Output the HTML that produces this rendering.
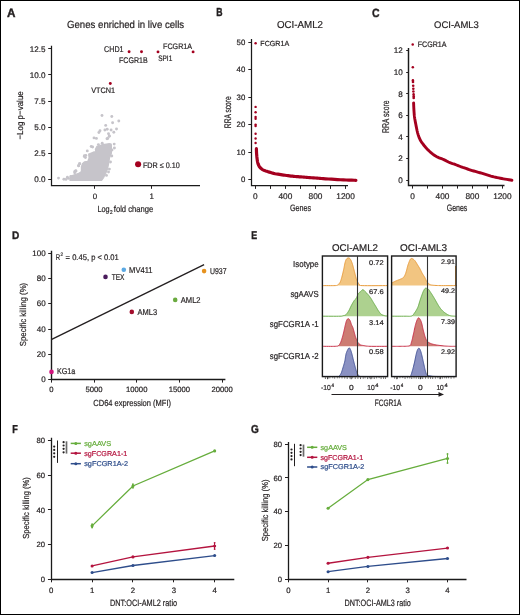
<!DOCTYPE html>
<html><head><meta charset="utf-8"><style>
html,body{margin:0;padding:0;background:#fff;}
svg{display:block;font-family:"Liberation Sans", sans-serif;will-change:transform;text-rendering:geometricPrecision;}
</style></head><body>
<svg width="520" height="615" viewBox="0 0 520 615">
<rect x="0" y="0" width="520" height="615" fill="#fff"/>
<text x="7.10" y="16.70" font-size="12.21" textLength="8.50" lengthAdjust="spacingAndGlyphs" fill="#231f20" stroke="#231f20" stroke-width="0.4" font-weight="bold">A</text>
<text x="216.20" y="16.45" font-size="11.63" textLength="6.30" lengthAdjust="spacingAndGlyphs" fill="#231f20" stroke="#231f20" stroke-width="0.4" font-weight="bold">B</text>
<text x="372.00" y="16.70" font-size="11.92" textLength="7.60" lengthAdjust="spacingAndGlyphs" fill="#231f20" stroke="#231f20" stroke-width="0.4" font-weight="bold">C</text>
<text x="11.90" y="238.60" font-size="10.90" textLength="7.30" lengthAdjust="spacingAndGlyphs" fill="#231f20" stroke="#231f20" stroke-width="0.4" font-weight="bold">D</text>
<text x="251.20" y="238.80" font-size="11.34" textLength="5.90" lengthAdjust="spacingAndGlyphs" fill="#231f20" stroke="#231f20" stroke-width="0.4" font-weight="bold">E</text>
<text x="12.30" y="433.10" font-size="11.48" textLength="5.60" lengthAdjust="spacingAndGlyphs" fill="#231f20" stroke="#231f20" stroke-width="0.4" font-weight="bold">F</text>
<text x="251.00" y="433.30" font-size="11.63" textLength="7.80" lengthAdjust="spacingAndGlyphs" fill="#231f20" stroke="#231f20" stroke-width="0.4" font-weight="bold">G</text>
<text x="67.00" y="27.90" font-size="10.32" textLength="117.20" lengthAdjust="spacingAndGlyphs" fill="#231f20" stroke="#231f20" stroke-width="0.2">Genes enriched in live cells</text>
<path d="M51.50,45.70 V185.50 H200.00" fill="none" stroke="#1a1a1a" stroke-width="1.25" stroke-linejoin="miter"/>
<line x1="48.20" y1="48.50" x2="51.30" y2="48.50" stroke="#231f20" stroke-width="1"/>
<text x="45.40" y="51.65" font-size="8.10" text-anchor="end" fill="#231f20" stroke="#231f20" stroke-width="0.2">12.5</text>
<line x1="48.20" y1="74.50" x2="51.30" y2="74.50" stroke="#231f20" stroke-width="1"/>
<text x="45.40" y="77.70" font-size="8.10" text-anchor="end" fill="#231f20" stroke="#231f20" stroke-width="0.2">10.0</text>
<line x1="48.20" y1="101.50" x2="51.30" y2="101.50" stroke="#231f20" stroke-width="1"/>
<text x="45.40" y="103.75" font-size="8.10" text-anchor="end" fill="#231f20" stroke="#231f20" stroke-width="0.2">7.5</text>
<line x1="48.20" y1="127.50" x2="51.30" y2="127.50" stroke="#231f20" stroke-width="1"/>
<text x="45.40" y="129.80" font-size="8.10" text-anchor="end" fill="#231f20" stroke="#231f20" stroke-width="0.2">5.0</text>
<line x1="48.20" y1="153.50" x2="51.30" y2="153.50" stroke="#231f20" stroke-width="1"/>
<text x="45.40" y="155.85" font-size="8.10" text-anchor="end" fill="#231f20" stroke="#231f20" stroke-width="0.2">2.5</text>
<line x1="48.20" y1="179.50" x2="51.30" y2="179.50" stroke="#231f20" stroke-width="1"/>
<text x="45.40" y="181.90" font-size="8.10" text-anchor="end" fill="#231f20" stroke="#231f20" stroke-width="0.2">0.0</text>
<line x1="94.50" y1="185.40" x2="94.50" y2="188.80" stroke="#231f20" stroke-width="1"/>
<text x="94.90" y="198.80" font-size="7.90" text-anchor="middle" fill="#231f20" stroke="#231f20" stroke-width="0.2">0</text>
<line x1="151.50" y1="185.40" x2="151.50" y2="188.80" stroke="#231f20" stroke-width="1"/>
<text x="151.80" y="198.80" font-size="7.90" text-anchor="middle" fill="#231f20" stroke="#231f20" stroke-width="0.2">1</text>
<text x="97.40" y="211.60" font-size="8.87" textLength="12.20" lengthAdjust="spacingAndGlyphs" fill="#231f20" stroke="#231f20" stroke-width="0.2">Log</text>
<text x="110.00" y="213.80" font-size="5.60" textLength="2.60" lengthAdjust="spacingAndGlyphs" fill="#231f20" stroke="#231f20" stroke-width="0.2">2</text>
<text x="113.80" y="211.60" font-size="8.87" textLength="39.50" lengthAdjust="spacingAndGlyphs" fill="#231f20" stroke="#231f20" stroke-width="0.2">fold change</text>
<text x="23.00" y="115.40" font-size="8.72" text-anchor="middle" textLength="48.30" lengthAdjust="spacingAndGlyphs" fill="#231f20" stroke="#231f20" stroke-width="0.2" transform="rotate(-90 23.00 115.40)">−Log p−value</text>
<polygon points="70.00,180.20 70.50,176.50 73.00,175.50 75.80,174.40 78.70,173.50 81.50,171.50 81.50,166.70 82.50,163.80 84.40,161.90 87.80,161.40 89.20,158.10 88.75,154.20 90.70,153.30 93.10,152.30 96.00,151.80 95.50,149.40 96.90,146.50 99.80,145.60 102.70,144.60 106.50,144.10 109.40,143.70 111.30,145.60 111.30,153.30 109.40,158.10 108.50,163.80 107.50,168.70 105.60,173.50 103.70,177.30 101.70,180.20" fill="#c6c4ca" stroke="#c6c4ca" stroke-width="1.4" stroke-linejoin="round"/>
<circle cx="102.00" cy="115.50" r="1.45" fill="#c6c4ca"/>
<circle cx="111.80" cy="116.50" r="1.45" fill="#c6c4ca"/>
<circle cx="118.80" cy="121.00" r="1.45" fill="#c6c4ca"/>
<circle cx="112.60" cy="122.80" r="1.45" fill="#c6c4ca"/>
<circle cx="105.70" cy="125.40" r="1.45" fill="#c6c4ca"/>
<circle cx="116.50" cy="129.00" r="1.45" fill="#c6c4ca"/>
<circle cx="107.20" cy="129.20" r="1.45" fill="#c6c4ca"/>
<circle cx="104.90" cy="130.00" r="1.45" fill="#c6c4ca"/>
<circle cx="111.10" cy="130.00" r="1.45" fill="#c6c4ca"/>
<circle cx="100.00" cy="130.80" r="1.45" fill="#c6c4ca"/>
<circle cx="98.90" cy="132.50" r="1.45" fill="#c6c4ca"/>
<circle cx="113.80" cy="132.30" r="1.45" fill="#c6c4ca"/>
<circle cx="108.50" cy="133.80" r="1.45" fill="#c6c4ca"/>
<circle cx="109.20" cy="136.20" r="1.45" fill="#c6c4ca"/>
<circle cx="107.70" cy="138.50" r="1.45" fill="#c6c4ca"/>
<circle cx="94.00" cy="137.90" r="1.45" fill="#c6c4ca"/>
<circle cx="96.40" cy="138.40" r="1.45" fill="#c6c4ca"/>
<circle cx="107.00" cy="138.80" r="1.45" fill="#c6c4ca"/>
<circle cx="109.40" cy="136.00" r="1.45" fill="#c6c4ca"/>
<circle cx="114.20" cy="144.10" r="1.45" fill="#c6c4ca"/>
<circle cx="114.40" cy="148.00" r="1.45" fill="#c6c4ca"/>
<circle cx="98.40" cy="144.60" r="1.45" fill="#c6c4ca"/>
<circle cx="102.20" cy="143.20" r="1.45" fill="#c6c4ca"/>
<circle cx="110.40" cy="144.60" r="1.45" fill="#c6c4ca"/>
<circle cx="109.40" cy="169.10" r="1.45" fill="#c6c4ca"/>
<circle cx="106.50" cy="175.40" r="1.45" fill="#c6c4ca"/>
<circle cx="84.40" cy="155.70" r="1.45" fill="#c6c4ca"/>
<circle cx="87.30" cy="150.90" r="1.45" fill="#c6c4ca"/>
<circle cx="85.40" cy="157.60" r="1.45" fill="#c6c4ca"/>
<circle cx="79.60" cy="163.80" r="1.45" fill="#c6c4ca"/>
<circle cx="78.70" cy="165.80" r="1.45" fill="#c6c4ca"/>
<circle cx="74.80" cy="171.50" r="1.45" fill="#c6c4ca"/>
<circle cx="75.80" cy="170.60" r="1.45" fill="#c6c4ca"/>
<circle cx="71.90" cy="177.30" r="1.45" fill="#c6c4ca"/>
<circle cx="91.20" cy="146.50" r="1.45" fill="#c6c4ca"/>
<circle cx="92.60" cy="147.00" r="1.45" fill="#c6c4ca"/>
<circle cx="58.50" cy="178.10" r="1.45" fill="#c6c4ca"/>
<circle cx="63.90" cy="179.20" r="1.45" fill="#c6c4ca"/>
<circle cx="67.40" cy="177.30" r="1.45" fill="#c6c4ca"/>
<circle cx="70.80" cy="176.50" r="1.45" fill="#c6c4ca"/>
<circle cx="68.50" cy="178.40" r="1.45" fill="#c6c4ca"/>
<circle cx="74.70" cy="172.70" r="1.45" fill="#c6c4ca"/>
<circle cx="75.80" cy="171.20" r="1.45" fill="#c6c4ca"/>
<circle cx="78.50" cy="165.80" r="1.45" fill="#c6c4ca"/>
<circle cx="79.70" cy="163.80" r="1.45" fill="#c6c4ca"/>
<circle cx="84.30" cy="156.50" r="1.45" fill="#c6c4ca"/>
<circle cx="85.80" cy="155.40" r="1.45" fill="#c6c4ca"/>
<circle cx="66.00" cy="179.40" r="1.45" fill="#c6c4ca"/>
<circle cx="71.50" cy="179.20" r="1.45" fill="#c6c4ca"/>
<circle cx="112.00" cy="150.00" r="1.45" fill="#c6c4ca"/>
<circle cx="111.80" cy="156.00" r="1.45" fill="#c6c4ca"/>
<circle cx="110.50" cy="162.00" r="1.45" fill="#c6c4ca"/>
<circle cx="108.50" cy="172.00" r="1.45" fill="#c6c4ca"/>
<circle cx="129.10" cy="51.80" r="1.45" fill="#a4001f"/>
<circle cx="141.50" cy="51.80" r="1.45" fill="#a4001f"/>
<circle cx="158.00" cy="51.90" r="1.45" fill="#a4001f"/>
<circle cx="193.10" cy="51.90" r="1.45" fill="#a4001f"/>
<circle cx="110.30" cy="83.50" r="1.45" fill="#a4001f"/>
<text x="104.00" y="52.30" font-size="8.43" textLength="19.60" lengthAdjust="spacingAndGlyphs" fill="#231f20" stroke="#231f20" stroke-width="0.2">CHD1</text>
<text x="119.00" y="63.40" font-size="8.14" textLength="28.60" lengthAdjust="spacingAndGlyphs" fill="#231f20" stroke="#231f20" stroke-width="0.2">FCGR1B</text>
<text x="158.20" y="61.30" font-size="7.99" textLength="14.10" lengthAdjust="spacingAndGlyphs" fill="#231f20" stroke="#231f20" stroke-width="0.2">SPI1</text>
<text x="163.00" y="49.40" font-size="7.99" textLength="29.10" lengthAdjust="spacingAndGlyphs" fill="#231f20" stroke="#231f20" stroke-width="0.2">FCGR1A</text>
<text x="91.20" y="92.50" font-size="7.99" textLength="23.90" lengthAdjust="spacingAndGlyphs" fill="#231f20" stroke="#231f20" stroke-width="0.2">VTCN1</text>
<circle cx="138.10" cy="164.30" r="3.05" fill="#a4001f"/>
<text x="142.90" y="167.60" font-size="7.99" textLength="37.00" lengthAdjust="spacingAndGlyphs" fill="#231f20" stroke="#231f20" stroke-width="0.2">FDR ≤ 0.10</text>
<text x="276.90" y="28.10" font-size="10.03" textLength="46.10" lengthAdjust="spacingAndGlyphs" fill="#231f20" stroke="#231f20" stroke-width="0.2">OCI-AML2</text>
<path d="M251.50,39.00 V185.50 H348.00" fill="none" stroke="#1a1a1a" stroke-width="1.25" stroke-linejoin="miter"/>
<line x1="248.30" y1="179.50" x2="251.20" y2="179.50" stroke="#231f20" stroke-width="1"/>
<text x="245.30" y="182.40" font-size="7.80" text-anchor="end" fill="#231f20" stroke="#231f20" stroke-width="0.2">0</text>
<line x1="248.30" y1="152.50" x2="251.20" y2="152.50" stroke="#231f20" stroke-width="1"/>
<text x="245.30" y="154.90" font-size="7.80" text-anchor="end" fill="#231f20" stroke="#231f20" stroke-width="0.2">10</text>
<line x1="248.30" y1="124.50" x2="251.20" y2="124.50" stroke="#231f20" stroke-width="1"/>
<text x="245.30" y="127.40" font-size="7.80" text-anchor="end" fill="#231f20" stroke="#231f20" stroke-width="0.2">20</text>
<line x1="248.30" y1="97.50" x2="251.20" y2="97.50" stroke="#231f20" stroke-width="1"/>
<text x="245.30" y="99.90" font-size="7.80" text-anchor="end" fill="#231f20" stroke="#231f20" stroke-width="0.2">30</text>
<line x1="248.30" y1="69.50" x2="251.20" y2="69.50" stroke="#231f20" stroke-width="1"/>
<text x="245.30" y="72.40" font-size="7.80" text-anchor="end" fill="#231f20" stroke="#231f20" stroke-width="0.2">40</text>
<line x1="248.30" y1="42.50" x2="251.20" y2="42.50" stroke="#231f20" stroke-width="1"/>
<text x="245.30" y="44.90" font-size="7.80" text-anchor="end" fill="#231f20" stroke="#231f20" stroke-width="0.2">50</text>
<line x1="255.50" y1="185.80" x2="255.50" y2="188.90" stroke="#231f20" stroke-width="1"/>
<text x="255.35" y="198.70" font-size="8.30" text-anchor="middle" fill="#231f20" stroke="#231f20" stroke-width="0.2">0</text>
<line x1="270.50" y1="185.80" x2="270.50" y2="188.90" stroke="#231f20" stroke-width="1"/>
<line x1="285.50" y1="185.80" x2="285.50" y2="188.90" stroke="#231f20" stroke-width="1"/>
<text x="285.43" y="198.70" font-size="8.30" text-anchor="middle" fill="#231f20" stroke="#231f20" stroke-width="0.2">400</text>
<line x1="300.50" y1="185.80" x2="300.50" y2="188.90" stroke="#231f20" stroke-width="1"/>
<line x1="315.50" y1="185.80" x2="315.50" y2="188.90" stroke="#231f20" stroke-width="1"/>
<text x="315.51" y="198.70" font-size="8.30" text-anchor="middle" fill="#231f20" stroke="#231f20" stroke-width="0.2">800</text>
<line x1="330.50" y1="185.80" x2="330.50" y2="188.90" stroke="#231f20" stroke-width="1"/>
<line x1="345.50" y1="185.80" x2="345.50" y2="188.90" stroke="#231f20" stroke-width="1"/>
<text x="345.59" y="198.70" font-size="8.30" text-anchor="middle" fill="#231f20" stroke="#231f20" stroke-width="0.2">1200</text>
<text x="289.90" y="211.40" font-size="9.30" textLength="21.20" lengthAdjust="spacingAndGlyphs" fill="#231f20" stroke="#231f20" stroke-width="0.2">Genes</text>
<text x="230.70" y="112.20" font-size="9.59" text-anchor="middle" textLength="32.00" lengthAdjust="spacingAndGlyphs" fill="#231f20" stroke="#231f20" stroke-width="0.2" transform="rotate(-90 230.70 112.20)">RRA score</text>
<circle cx="255.60" cy="43.30" r="1.25" fill="#a4001f"/>
<circle cx="255.60" cy="106.90" r="1.2" fill="#a4001f"/>
<circle cx="255.60" cy="112.30" r="1.2" fill="#a4001f"/>
<circle cx="255.60" cy="117.00" r="1.2" fill="#a4001f"/>
<circle cx="255.60" cy="118.80" r="1.2" fill="#a4001f"/>
<circle cx="255.60" cy="124.60" r="1.2" fill="#a4001f"/>
<circle cx="255.60" cy="126.00" r="1.2" fill="#a4001f"/>
<circle cx="255.60" cy="133.80" r="1.2" fill="#a4001f"/>
<circle cx="255.60" cy="138.50" r="1.2" fill="#a4001f"/>
<circle cx="255.60" cy="143.00" r="1.2" fill="#a4001f"/>
<text x="260.30" y="45.80" font-size="7.41" textLength="28.90" lengthAdjust="spacingAndGlyphs" fill="#231f20" stroke="#231f20" stroke-width="0.2">FCGR1A</text>
<polyline points="256.40,148.70 256.43,149.60 256.46,150.89 256.52,152.36 256.60,153.80 256.72,155.24 256.86,156.77 257.03,158.26 257.20,159.60 257.37,160.75 257.54,161.76 257.75,162.70 258.00,163.60 258.31,164.48 258.66,165.31 259.05,166.08 259.50,166.80 260.00,167.46 260.56,168.06 261.16,168.60 261.80,169.10 262.44,169.53 263.11,169.90 263.84,170.24 264.70,170.60 265.70,170.97 266.82,171.34 268.03,171.72 269.30,172.10 270.67,172.51 272.13,172.94 273.63,173.35 275.10,173.70 276.53,173.97 277.95,174.19 279.37,174.39 280.80,174.60 282.24,174.83 283.69,175.06 285.15,175.29 286.60,175.50 288.05,175.69 289.51,175.88 290.96,176.04 292.40,176.20 293.83,176.34 295.25,176.47 296.67,176.59 298.10,176.70 299.54,176.80 300.99,176.90 302.45,177.00 303.90,177.10 305.31,177.22 306.69,177.34 308.12,177.47 309.70,177.60 311.52,177.74 313.50,177.88 315.48,178.02 317.30,178.15 318.74,178.26 319.96,178.36 321.29,178.47 323.10,178.60 325.57,178.78 328.49,178.99 331.59,179.21 334.60,179.40 337.51,179.57 340.46,179.73 343.34,179.88 346.10,180.00 348.90,180.10 351.72,180.19 354.18,180.25 355.90,180.30" fill="none" stroke="#a4001f" stroke-width="3.2" stroke-linecap="round" stroke-linejoin="round"/>
<text x="434.00" y="28.00" font-size="9.59" textLength="44.90" lengthAdjust="spacingAndGlyphs" fill="#231f20" stroke="#231f20" stroke-width="0.2">OCI-AML3</text>
<path d="M408.50,48.00 V185.50 H504.50" fill="none" stroke="#1a1a1a" stroke-width="1.45" stroke-linejoin="miter"/>
<line x1="406.20" y1="180.50" x2="409.00" y2="180.50" stroke="#231f20" stroke-width="1"/>
<text x="402.80" y="182.90" font-size="8.10" text-anchor="end" fill="#231f20" stroke="#231f20" stroke-width="0.2">0</text>
<line x1="406.20" y1="158.50" x2="409.00" y2="158.50" stroke="#231f20" stroke-width="1"/>
<text x="402.80" y="161.30" font-size="8.10" text-anchor="end" fill="#231f20" stroke="#231f20" stroke-width="0.2">2</text>
<line x1="406.20" y1="136.50" x2="409.00" y2="136.50" stroke="#231f20" stroke-width="1"/>
<text x="402.80" y="139.70" font-size="8.10" text-anchor="end" fill="#231f20" stroke="#231f20" stroke-width="0.2">4</text>
<line x1="406.20" y1="115.50" x2="409.00" y2="115.50" stroke="#231f20" stroke-width="1"/>
<text x="402.80" y="118.10" font-size="8.10" text-anchor="end" fill="#231f20" stroke="#231f20" stroke-width="0.2">6</text>
<line x1="406.20" y1="93.50" x2="409.00" y2="93.50" stroke="#231f20" stroke-width="1"/>
<text x="402.80" y="96.50" font-size="8.10" text-anchor="end" fill="#231f20" stroke="#231f20" stroke-width="0.2">8</text>
<line x1="406.20" y1="72.50" x2="409.00" y2="72.50" stroke="#231f20" stroke-width="1"/>
<text x="402.80" y="74.90" font-size="8.10" text-anchor="end" fill="#231f20" stroke="#231f20" stroke-width="0.2">10</text>
<line x1="406.20" y1="50.50" x2="409.00" y2="50.50" stroke="#231f20" stroke-width="1"/>
<text x="402.80" y="53.30" font-size="8.10" text-anchor="end" fill="#231f20" stroke="#231f20" stroke-width="0.2">12</text>
<line x1="412.50" y1="185.60" x2="412.50" y2="188.60" stroke="#231f20" stroke-width="1"/>
<text x="412.50" y="198.70" font-size="8.30" text-anchor="middle" fill="#231f20" stroke="#231f20" stroke-width="0.2">0</text>
<line x1="427.50" y1="185.60" x2="427.50" y2="188.60" stroke="#231f20" stroke-width="1"/>
<line x1="442.50" y1="185.60" x2="442.50" y2="188.60" stroke="#231f20" stroke-width="1"/>
<text x="442.46" y="198.70" font-size="8.30" text-anchor="middle" fill="#231f20" stroke="#231f20" stroke-width="0.2">400</text>
<line x1="457.50" y1="185.60" x2="457.50" y2="188.60" stroke="#231f20" stroke-width="1"/>
<line x1="472.50" y1="185.60" x2="472.50" y2="188.60" stroke="#231f20" stroke-width="1"/>
<text x="472.42" y="198.70" font-size="8.30" text-anchor="middle" fill="#231f20" stroke="#231f20" stroke-width="0.2">800</text>
<line x1="487.50" y1="185.60" x2="487.50" y2="188.60" stroke="#231f20" stroke-width="1"/>
<line x1="502.50" y1="185.60" x2="502.50" y2="188.60" stroke="#231f20" stroke-width="1"/>
<text x="502.38" y="198.70" font-size="8.30" text-anchor="middle" fill="#231f20" stroke="#231f20" stroke-width="0.2">1200</text>
<text x="446.70" y="211.40" font-size="9.45" textLength="20.70" lengthAdjust="spacingAndGlyphs" fill="#231f20" stroke="#231f20" stroke-width="0.2">Genes</text>
<text x="388.60" y="116.70" font-size="9.74" text-anchor="middle" textLength="32.70" lengthAdjust="spacingAndGlyphs" fill="#231f20" stroke="#231f20" stroke-width="0.2" transform="rotate(-90 388.60 116.70)">RRA score</text>
<circle cx="412.70" cy="44.60" r="1.25" fill="#a4001f"/>
<circle cx="412.80" cy="67.30" r="1.25" fill="#a4001f"/>
<circle cx="412.90" cy="80.40" r="1.3" fill="#a4001f"/>
<circle cx="413.00" cy="82.00" r="1.3" fill="#a4001f"/>
<circle cx="413.20" cy="85.80" r="1.3" fill="#a4001f"/>
<circle cx="413.30" cy="88.70" r="1.3" fill="#a4001f"/>
<circle cx="413.40" cy="91.50" r="1.3" fill="#a4001f"/>
<circle cx="413.60" cy="94.40" r="1.3" fill="#a4001f"/>
<circle cx="413.70" cy="96.40" r="1.3" fill="#a4001f"/>
<circle cx="413.70" cy="98.00" r="1.3" fill="#a4001f"/>
<text x="417.70" y="47.10" font-size="7.99" textLength="28.80" lengthAdjust="spacingAndGlyphs" fill="#231f20" stroke="#231f20" stroke-width="0.2">FCGR1A</text>
<polyline points="413.60,102.90 413.65,104.09 413.71,105.79 413.80,107.72 413.90,109.60 414.01,111.40 414.14,113.26 414.29,115.14 414.50,117.00 414.76,118.80 415.08,120.58 415.42,122.39 415.80,124.30 416.20,126.38 416.63,128.59 417.10,130.77 417.60,132.80 418.13,134.63 418.68,136.34 419.29,137.95 420.00,139.50 420.82,140.97 421.73,142.36 422.70,143.70 423.70,145.00 424.72,146.28 425.78,147.53 426.88,148.74 428.00,149.90 429.16,151.02 430.36,152.11 431.58,153.14 432.80,154.10 433.99,154.97 435.17,155.76 436.39,156.50 437.70,157.20 439.14,157.83 440.68,158.40 442.25,158.97 443.80,159.60 445.35,160.36 446.91,161.19 448.45,162.01 449.90,162.70 451.22,163.20 452.44,163.59 453.67,163.95 455.00,164.40 456.48,164.98 458.05,165.63 459.66,166.28 461.25,166.90 462.81,167.46 464.38,167.98 465.94,168.49 467.50,169.00 469.06,169.51 470.62,170.02 472.19,170.52 473.75,171.00 475.31,171.45 476.88,171.88 478.44,172.31 480.00,172.75 481.56,173.20 483.12,173.67 484.69,174.13 486.25,174.60 487.81,175.08 489.38,175.58 490.94,176.06 492.50,176.50 494.06,176.89 495.62,177.24 497.19,177.58 498.75,177.90 500.30,178.22 501.83,178.52 503.39,178.81 505.00,179.10 506.84,179.42 508.84,179.75 510.64,180.04 511.90,180.25" fill="none" stroke="#a4001f" stroke-width="2.9" stroke-linecap="round" stroke-linejoin="round"/>
<path d="M51.50,250.80 V379.50 H225.40" fill="none" stroke="#1a1a1a" stroke-width="1.4" stroke-linejoin="miter"/>
<line x1="48.20" y1="379.50" x2="51.20" y2="379.50" stroke="#231f20" stroke-width="1"/>
<text x="45.70" y="382.35" font-size="8.00" text-anchor="end" fill="#231f20" stroke="#231f20" stroke-width="0.2">0</text>
<line x1="48.20" y1="354.50" x2="51.20" y2="354.50" stroke="#231f20" stroke-width="1"/>
<text x="45.70" y="357.06" font-size="8.00" text-anchor="end" fill="#231f20" stroke="#231f20" stroke-width="0.2">20</text>
<line x1="48.20" y1="329.50" x2="51.20" y2="329.50" stroke="#231f20" stroke-width="1"/>
<text x="45.70" y="331.77" font-size="8.00" text-anchor="end" fill="#231f20" stroke="#231f20" stroke-width="0.2">40</text>
<line x1="48.20" y1="303.50" x2="51.20" y2="303.50" stroke="#231f20" stroke-width="1"/>
<text x="45.70" y="306.48" font-size="8.00" text-anchor="end" fill="#231f20" stroke="#231f20" stroke-width="0.2">60</text>
<line x1="48.20" y1="278.50" x2="51.20" y2="278.50" stroke="#231f20" stroke-width="1"/>
<text x="45.70" y="281.19" font-size="8.00" text-anchor="end" fill="#231f20" stroke="#231f20" stroke-width="0.2">80</text>
<line x1="48.20" y1="253.50" x2="51.20" y2="253.50" stroke="#231f20" stroke-width="1"/>
<text x="45.70" y="255.90" font-size="8.00" text-anchor="end" fill="#231f20" stroke="#231f20" stroke-width="0.2">100</text>
<line x1="51.50" y1="379.70" x2="51.50" y2="382.60" stroke="#231f20" stroke-width="1"/>
<text x="51.40" y="392.40" font-size="7.70" text-anchor="middle" fill="#231f20" stroke="#231f20" stroke-width="0.2">0</text>
<line x1="94.50" y1="379.70" x2="94.50" y2="382.60" stroke="#231f20" stroke-width="1"/>
<text x="94.07" y="392.40" font-size="7.70" text-anchor="middle" fill="#231f20" stroke="#231f20" stroke-width="0.2">5000</text>
<line x1="136.50" y1="379.70" x2="136.50" y2="382.60" stroke="#231f20" stroke-width="1"/>
<text x="136.75" y="392.40" font-size="7.70" text-anchor="middle" fill="#231f20" stroke="#231f20" stroke-width="0.2">10000</text>
<line x1="179.50" y1="379.70" x2="179.50" y2="382.60" stroke="#231f20" stroke-width="1"/>
<text x="179.42" y="392.40" font-size="7.70" text-anchor="middle" fill="#231f20" stroke="#231f20" stroke-width="0.2">15000</text>
<line x1="222.50" y1="379.70" x2="222.50" y2="382.60" stroke="#231f20" stroke-width="1"/>
<text x="222.10" y="392.40" font-size="7.70" text-anchor="middle" fill="#231f20" stroke="#231f20" stroke-width="0.2">20000</text>
<text x="93.30" y="405.50" font-size="8.87" textLength="77.70" lengthAdjust="spacingAndGlyphs" fill="#231f20" stroke="#231f20" stroke-width="0.2">CD64 expression (MFI)</text>
<text x="25.90" y="314.50" font-size="8.72" text-anchor="middle" textLength="63.40" lengthAdjust="spacingAndGlyphs" fill="#231f20" stroke="#231f20" stroke-width="0.2" transform="rotate(-90 25.90 314.50)">Specific killing (%)</text>
<line x1="51.20" y1="339.60" x2="204.10" y2="264.60" stroke="#231f20" stroke-width="1.3"/>
<text x="55.75" y="259.90" font-size="8.14" textLength="4.35" lengthAdjust="spacingAndGlyphs" fill="#231f20" stroke="#231f20" stroke-width="0.2">R</text>
<text x="60.40" y="256.10" font-size="5.09" textLength="2.60" lengthAdjust="spacingAndGlyphs" fill="#231f20" stroke="#231f20" stroke-width="0.2">2</text>
<text x="65.60" y="259.90" font-size="8.14" textLength="53.20" lengthAdjust="spacingAndGlyphs" fill="#231f20" stroke="#231f20" stroke-width="0.2">= 0.45, p &lt; 0.01</text>
<circle cx="123.80" cy="269.70" r="2.3" fill="#5ba9e3"/>
<text x="129.10" y="272.70" font-size="8.43" textLength="23.50" lengthAdjust="spacingAndGlyphs" fill="#231f20" stroke="#231f20" stroke-width="0.2">MV411</text>
<circle cx="105.50" cy="276.90" r="2.3" fill="#4a1b5c"/>
<text x="111.70" y="280.00" font-size="8.43" textLength="12.80" lengthAdjust="spacingAndGlyphs" fill="#231f20" stroke="#231f20" stroke-width="0.2">TEX</text>
<circle cx="204.10" cy="271.10" r="2.3" fill="#e6921e"/>
<text x="209.90" y="273.80" font-size="8.43" textLength="16.60" lengthAdjust="spacingAndGlyphs" fill="#231f20" stroke="#231f20" stroke-width="0.2">U937</text>
<circle cx="175.20" cy="299.90" r="2.3" fill="#6aaa3f"/>
<text x="180.80" y="302.70" font-size="8.43" textLength="19.80" lengthAdjust="spacingAndGlyphs" fill="#231f20" stroke="#231f20" stroke-width="0.2">AML2</text>
<circle cx="131.80" cy="311.90" r="2.3" fill="#a30d2c"/>
<text x="137.60" y="314.70" font-size="8.43" textLength="19.60" lengthAdjust="spacingAndGlyphs" fill="#231f20" stroke="#231f20" stroke-width="0.2">AML3</text>
<circle cx="51.50" cy="371.90" r="2.3" fill="#d0157d"/>
<text x="56.90" y="374.40" font-size="8.43" textLength="18.29" lengthAdjust="spacingAndGlyphs" fill="#231f20" stroke="#231f20" stroke-width="0.2">KG1a</text>
<text x="293.10" y="266.50" font-size="8.72" textLength="25.60" lengthAdjust="spacingAndGlyphs" fill="#231f20" stroke="#231f20" stroke-width="0.2">Isotype</text>
<text x="290.40" y="297.40" font-size="8.72" textLength="28.30" lengthAdjust="spacingAndGlyphs" fill="#231f20" stroke="#231f20" stroke-width="0.2">sgAAVS</text>
<text x="269.80" y="327.30" font-size="8.72" textLength="48.90" lengthAdjust="spacingAndGlyphs" fill="#231f20" stroke="#231f20" stroke-width="0.2">sgFCGR1A -1</text>
<text x="269.80" y="358.50" font-size="8.72" textLength="48.90" lengthAdjust="spacingAndGlyphs" fill="#231f20" stroke="#231f20" stroke-width="0.2">sgFCGR1A -2</text>
<text x="332.00" y="251.00" font-size="9.81" textLength="46.00" lengthAdjust="spacingAndGlyphs" fill="#231f20" stroke="#231f20" stroke-width="0.2">OCI-AML2</text>
<text x="400.00" y="251.00" font-size="9.81" textLength="47.00" lengthAdjust="spacingAndGlyphs" fill="#231f20" stroke="#231f20" stroke-width="0.2">OCI-AML3</text>
<polygon points="322.40,285.60 322.40,285.60 323.44,285.61 324.89,285.62 326.63,285.64 328.52,285.65 330.43,285.66 332.24,285.66 333.80,285.64 335.00,285.60 335.83,285.55 336.42,285.50 336.82,285.44 337.09,285.37 337.28,285.27 337.44,285.15 337.63,285.00 337.90,284.80 338.22,284.57 338.53,284.32 338.83,284.04 339.12,283.73 339.41,283.38 339.68,283.00 339.95,282.57 340.20,282.10 340.44,281.59 340.66,281.03 340.88,280.43 341.08,279.80 341.28,279.13 341.48,278.42 341.69,277.68 341.90,276.90 342.12,276.07 342.35,275.17 342.59,274.23 342.82,273.26 343.05,272.27 343.28,271.29 343.49,270.32 343.70,269.40 343.89,268.49 344.08,267.55 344.25,266.62 344.42,265.70 344.59,264.81 344.76,263.97 344.93,263.20 345.10,262.50 345.27,261.88 345.43,261.33 345.59,260.83 345.74,260.39 345.91,259.99 346.09,259.63 346.28,259.30 346.50,259.00 346.75,258.73 347.02,258.49 347.32,258.29 347.62,258.12 347.93,258.00 348.24,257.92 348.53,257.89 348.80,257.90 349.05,257.96 349.29,258.07 349.52,258.23 349.74,258.42 349.95,258.66 350.17,258.94 350.38,259.25 350.60,259.60 350.82,259.98 351.03,260.40 351.24,260.87 351.46,261.36 351.67,261.90 351.88,262.46 352.09,263.07 352.30,263.70 352.51,264.39 352.73,265.13 352.95,265.92 353.16,266.74 353.38,267.58 353.59,268.41 353.80,269.22 354.00,270.00 354.20,270.76 354.39,271.51 354.58,272.26 354.77,273.01 354.95,273.73 355.14,274.45 355.32,275.14 355.50,275.80 355.67,276.44 355.84,277.05 355.99,277.64 356.15,278.22 356.31,278.78 356.49,279.33 356.68,279.87 356.90,280.40 357.14,280.94 357.40,281.49 357.67,282.03 357.96,282.56 358.25,283.06 358.56,283.52 358.88,283.94 359.20,284.30 359.38,284.60 359.35,284.84 359.25,285.04 359.20,285.19 359.33,285.32 359.77,285.43 360.65,285.52 362.10,285.60 364.38,285.66 367.48,285.69 371.13,285.70 375.03,285.68 378.91,285.66 382.49,285.63 385.48,285.61 387.60,285.60 387.60,285.60" fill="#f2c581" stroke="none" stroke-width="0"/>
<polyline points="322.40,285.60 323.44,285.61 324.89,285.62 326.63,285.64 328.52,285.65 330.43,285.66 332.24,285.66 333.80,285.64 335.00,285.60 335.83,285.55 336.42,285.50 336.82,285.44 337.09,285.37 337.28,285.27 337.44,285.15 337.63,285.00 337.90,284.80 338.22,284.57 338.53,284.32 338.83,284.04 339.12,283.73 339.41,283.38 339.68,283.00 339.95,282.57 340.20,282.10 340.44,281.59 340.66,281.03 340.88,280.43 341.08,279.80 341.28,279.13 341.48,278.42 341.69,277.68 341.90,276.90 342.12,276.07 342.35,275.17 342.59,274.23 342.82,273.26 343.05,272.27 343.28,271.29 343.49,270.32 343.70,269.40 343.89,268.49 344.08,267.55 344.25,266.62 344.42,265.70 344.59,264.81 344.76,263.97 344.93,263.20 345.10,262.50 345.27,261.88 345.43,261.33 345.59,260.83 345.74,260.39 345.91,259.99 346.09,259.63 346.28,259.30 346.50,259.00 346.75,258.73 347.02,258.49 347.32,258.29 347.62,258.12 347.93,258.00 348.24,257.92 348.53,257.89 348.80,257.90 349.05,257.96 349.29,258.07 349.52,258.23 349.74,258.42 349.95,258.66 350.17,258.94 350.38,259.25 350.60,259.60 350.82,259.98 351.03,260.40 351.24,260.87 351.46,261.36 351.67,261.90 351.88,262.46 352.09,263.07 352.30,263.70 352.51,264.39 352.73,265.13 352.95,265.92 353.16,266.74 353.38,267.58 353.59,268.41 353.80,269.22 354.00,270.00 354.20,270.76 354.39,271.51 354.58,272.26 354.77,273.01 354.95,273.73 355.14,274.45 355.32,275.14 355.50,275.80 355.67,276.44 355.84,277.05 355.99,277.64 356.15,278.22 356.31,278.78 356.49,279.33 356.68,279.87 356.90,280.40 357.14,280.94 357.40,281.49 357.67,282.03 357.96,282.56 358.25,283.06 358.56,283.52 358.88,283.94 359.20,284.30 359.38,284.60 359.35,284.84 359.25,285.04 359.20,285.19 359.33,285.32 359.77,285.43 360.65,285.52 362.10,285.60 364.38,285.66 367.48,285.69 371.13,285.70 375.03,285.68 378.91,285.66 382.49,285.63 385.48,285.61 387.60,285.60" fill="none" stroke="#e99d3e" stroke-width="1.0" stroke-linejoin="round"/>
<polygon points="322.40,316.20 322.40,316.20 323.86,316.20 325.91,316.21 328.36,316.22 331.02,316.23 333.70,316.24 336.22,316.24 338.38,316.22 340.00,316.20 341.07,316.16 341.76,316.12 342.16,316.07 342.37,316.01 342.46,315.94 342.52,315.86 342.64,315.79 342.90,315.70 343.26,315.63 343.62,315.57 343.99,315.52 344.35,315.46 344.71,315.37 345.07,315.25 345.44,315.06 345.80,314.80 346.16,314.47 346.53,314.08 346.89,313.64 347.26,313.15 347.62,312.63 347.98,312.07 348.34,311.49 348.70,310.90 349.05,310.27 349.40,309.58 349.75,308.86 350.10,308.11 350.45,307.36 350.80,306.61 351.15,305.89 351.50,305.20 351.86,304.53 352.24,303.85 352.62,303.18 353.01,302.53 353.38,301.90 353.74,301.31 354.08,300.77 354.40,300.30 354.68,299.92 354.94,299.64 355.18,299.42 355.41,299.23 355.62,299.05 355.84,298.84 356.06,298.56 356.30,298.20 356.54,297.73 356.78,297.17 357.03,296.55 357.27,295.90 357.52,295.25 357.77,294.63 358.03,294.07 358.30,293.60 358.58,293.22 358.88,292.89 359.18,292.62 359.49,292.38 359.80,292.16 360.10,291.95 360.41,291.74 360.70,291.50 360.99,291.23 361.27,290.92 361.54,290.61 361.82,290.30 362.09,290.03 362.36,289.80 362.63,289.65 362.90,289.60 363.16,289.65 363.41,289.78 363.66,289.99 363.91,290.25 364.16,290.55 364.42,290.87 364.70,291.19 365.00,291.50 365.32,291.81 365.67,292.13 366.03,292.47 366.40,292.83 366.78,293.20 367.16,293.59 367.53,293.99 367.90,294.40 368.27,294.83 368.64,295.28 369.01,295.75 369.38,296.23 369.75,296.72 370.11,297.21 370.46,297.71 370.80,298.20 371.12,298.69 371.44,299.19 371.74,299.69 372.03,300.19 372.32,300.70 372.61,301.20 372.90,301.70 373.20,302.20 373.50,302.69 373.79,303.16 374.08,303.63 374.37,304.10 374.66,304.58 374.96,305.06 375.28,305.57 375.60,306.10 375.94,306.67 376.29,307.27 376.66,307.90 377.03,308.53 377.40,309.16 377.77,309.78 378.14,310.36 378.50,310.90 378.85,311.40 379.18,311.89 379.51,312.36 379.84,312.81 380.17,313.23 380.52,313.62 380.90,313.98 381.30,314.30 381.75,314.59 382.23,314.84 382.75,315.07 383.28,315.26 383.80,315.43 384.30,315.58 384.78,315.70 385.20,315.80 385.59,315.87 385.96,315.91 386.32,315.91 386.64,315.89 386.94,315.87 387.20,315.84 387.43,315.81 387.60,315.80 387.60,316.20" fill="#add18f" stroke="none" stroke-width="0"/>
<polyline points="322.40,316.20 323.86,316.20 325.91,316.21 328.36,316.22 331.02,316.23 333.70,316.24 336.22,316.24 338.38,316.22 340.00,316.20 341.07,316.16 341.76,316.12 342.16,316.07 342.37,316.01 342.46,315.94 342.52,315.86 342.64,315.79 342.90,315.70 343.26,315.63 343.62,315.57 343.99,315.52 344.35,315.46 344.71,315.37 345.07,315.25 345.44,315.06 345.80,314.80 346.16,314.47 346.53,314.08 346.89,313.64 347.26,313.15 347.62,312.63 347.98,312.07 348.34,311.49 348.70,310.90 349.05,310.27 349.40,309.58 349.75,308.86 350.10,308.11 350.45,307.36 350.80,306.61 351.15,305.89 351.50,305.20 351.86,304.53 352.24,303.85 352.62,303.18 353.01,302.53 353.38,301.90 353.74,301.31 354.08,300.77 354.40,300.30 354.68,299.92 354.94,299.64 355.18,299.42 355.41,299.23 355.62,299.05 355.84,298.84 356.06,298.56 356.30,298.20 356.54,297.73 356.78,297.17 357.03,296.55 357.27,295.90 357.52,295.25 357.77,294.63 358.03,294.07 358.30,293.60 358.58,293.22 358.88,292.89 359.18,292.62 359.49,292.38 359.80,292.16 360.10,291.95 360.41,291.74 360.70,291.50 360.99,291.23 361.27,290.92 361.54,290.61 361.82,290.30 362.09,290.03 362.36,289.80 362.63,289.65 362.90,289.60 363.16,289.65 363.41,289.78 363.66,289.99 363.91,290.25 364.16,290.55 364.42,290.87 364.70,291.19 365.00,291.50 365.32,291.81 365.67,292.13 366.03,292.47 366.40,292.83 366.78,293.20 367.16,293.59 367.53,293.99 367.90,294.40 368.27,294.83 368.64,295.28 369.01,295.75 369.38,296.23 369.75,296.72 370.11,297.21 370.46,297.71 370.80,298.20 371.12,298.69 371.44,299.19 371.74,299.69 372.03,300.19 372.32,300.70 372.61,301.20 372.90,301.70 373.20,302.20 373.50,302.69 373.79,303.16 374.08,303.63 374.37,304.10 374.66,304.58 374.96,305.06 375.28,305.57 375.60,306.10 375.94,306.67 376.29,307.27 376.66,307.90 377.03,308.53 377.40,309.16 377.77,309.78 378.14,310.36 378.50,310.90 378.85,311.40 379.18,311.89 379.51,312.36 379.84,312.81 380.17,313.23 380.52,313.62 380.90,313.98 381.30,314.30 381.75,314.59 382.23,314.84 382.75,315.07 383.28,315.26 383.80,315.43 384.30,315.58 384.78,315.70 385.20,315.80 385.59,315.87 385.96,315.91 386.32,315.91 386.64,315.89 386.94,315.87 387.20,315.84 387.43,315.81 387.60,315.80" fill="none" stroke="#6cae4c" stroke-width="1.0" stroke-linejoin="round"/>
<polygon points="322.40,346.30 322.40,346.30 323.43,346.30 324.88,346.32 326.61,346.33 328.49,346.34 330.40,346.35 332.20,346.35 333.78,346.33 335.00,346.30 335.87,346.26 336.53,346.22 337.01,346.18 337.36,346.12 337.63,346.04 337.86,345.93 338.10,345.79 338.40,345.60 338.72,345.37 339.01,345.11 339.27,344.82 339.51,344.50 339.73,344.15 339.95,343.76 340.17,343.35 340.40,342.90 340.63,342.42 340.85,341.90 341.06,341.34 341.27,340.76 341.48,340.15 341.69,339.51 341.89,338.86 342.10,338.20 342.30,337.52 342.50,336.83 342.70,336.11 342.90,335.38 343.10,334.62 343.30,333.84 343.50,333.03 343.70,332.20 343.91,331.32 344.12,330.36 344.34,329.37 344.56,328.37 344.78,327.37 344.99,326.41 345.20,325.51 345.40,324.70 345.59,323.96 345.76,323.25 345.93,322.58 346.10,321.96 346.27,321.39 346.44,320.87 346.61,320.41 346.80,320.00 347.00,319.65 347.21,319.36 347.42,319.12 347.64,318.93 347.86,318.80 348.08,318.71 348.29,318.68 348.50,318.70 348.71,318.78 348.91,318.92 349.12,319.12 349.32,319.37 349.52,319.66 349.72,319.98 349.91,320.33 350.10,320.70 350.29,321.11 350.47,321.59 350.64,322.11 350.82,322.66 350.99,323.21 351.16,323.74 351.33,324.25 351.50,324.70 351.67,325.09 351.83,325.42 351.99,325.72 352.15,326.00 352.31,326.29 352.47,326.61 352.63,326.97 352.80,327.40 352.97,327.90 353.15,328.45 353.32,329.05 353.50,329.68 353.68,330.32 353.85,330.96 354.03,331.59 354.20,332.20 354.37,332.80 354.53,333.41 354.69,334.03 354.85,334.64 355.01,335.24 355.17,335.83 355.33,336.38 355.50,336.90 355.67,337.38 355.85,337.84 356.02,338.27 356.20,338.68 356.38,339.07 356.55,339.45 356.73,339.83 356.90,340.20 357.06,340.57 357.21,340.93 357.35,341.29 357.49,341.63 357.64,341.97 357.80,342.29 357.99,342.60 358.20,342.90 358.44,343.19 358.70,343.48 358.98,343.76 359.27,344.02 359.59,344.28 359.91,344.51 360.25,344.72 360.60,344.90 360.95,345.05 361.30,345.17 361.65,345.26 362.02,345.33 362.42,345.39 362.86,345.46 363.35,345.52 363.90,345.60 364.45,345.69 364.96,345.79 365.48,345.89 366.06,345.99 366.75,346.09 367.60,346.17 368.67,346.25 370.00,346.30 371.77,346.33 374.00,346.35 376.53,346.35 379.18,346.34 381.78,346.33 384.17,346.32 386.16,346.30 387.60,346.30 387.60,346.30" fill="#cd7c73" stroke="none" stroke-width="0"/>
<polyline points="322.40,346.30 323.43,346.30 324.88,346.32 326.61,346.33 328.49,346.34 330.40,346.35 332.20,346.35 333.78,346.33 335.00,346.30 335.87,346.26 336.53,346.22 337.01,346.18 337.36,346.12 337.63,346.04 337.86,345.93 338.10,345.79 338.40,345.60 338.72,345.37 339.01,345.11 339.27,344.82 339.51,344.50 339.73,344.15 339.95,343.76 340.17,343.35 340.40,342.90 340.63,342.42 340.85,341.90 341.06,341.34 341.27,340.76 341.48,340.15 341.69,339.51 341.89,338.86 342.10,338.20 342.30,337.52 342.50,336.83 342.70,336.11 342.90,335.38 343.10,334.62 343.30,333.84 343.50,333.03 343.70,332.20 343.91,331.32 344.12,330.36 344.34,329.37 344.56,328.37 344.78,327.37 344.99,326.41 345.20,325.51 345.40,324.70 345.59,323.96 345.76,323.25 345.93,322.58 346.10,321.96 346.27,321.39 346.44,320.87 346.61,320.41 346.80,320.00 347.00,319.65 347.21,319.36 347.42,319.12 347.64,318.93 347.86,318.80 348.08,318.71 348.29,318.68 348.50,318.70 348.71,318.78 348.91,318.92 349.12,319.12 349.32,319.37 349.52,319.66 349.72,319.98 349.91,320.33 350.10,320.70 350.29,321.11 350.47,321.59 350.64,322.11 350.82,322.66 350.99,323.21 351.16,323.74 351.33,324.25 351.50,324.70 351.67,325.09 351.83,325.42 351.99,325.72 352.15,326.00 352.31,326.29 352.47,326.61 352.63,326.97 352.80,327.40 352.97,327.90 353.15,328.45 353.32,329.05 353.50,329.68 353.68,330.32 353.85,330.96 354.03,331.59 354.20,332.20 354.37,332.80 354.53,333.41 354.69,334.03 354.85,334.64 355.01,335.24 355.17,335.83 355.33,336.38 355.50,336.90 355.67,337.38 355.85,337.84 356.02,338.27 356.20,338.68 356.38,339.07 356.55,339.45 356.73,339.83 356.90,340.20 357.06,340.57 357.21,340.93 357.35,341.29 357.49,341.63 357.64,341.97 357.80,342.29 357.99,342.60 358.20,342.90 358.44,343.19 358.70,343.48 358.98,343.76 359.27,344.02 359.59,344.28 359.91,344.51 360.25,344.72 360.60,344.90 360.95,345.05 361.30,345.17 361.65,345.26 362.02,345.33 362.42,345.39 362.86,345.46 363.35,345.52 363.90,345.60 364.45,345.69 364.96,345.79 365.48,345.89 366.06,345.99 366.75,346.09 367.60,346.17 368.67,346.25 370.00,346.30 371.77,346.33 374.00,346.35 376.53,346.35 379.18,346.34 381.78,346.33 384.17,346.32 386.16,346.30 387.60,346.30" fill="none" stroke="#c9334b" stroke-width="1.0" stroke-linejoin="round"/>
<polygon points="322.40,376.40 322.40,376.40 323.61,376.40 325.32,376.41 327.36,376.42 329.57,376.42 331.81,376.43 333.89,376.43 335.68,376.42 337.00,376.40 337.85,376.38 338.38,376.38 338.67,376.38 338.78,376.37 338.80,376.34 338.79,376.27 338.83,376.16 339.00,376.00 339.26,375.80 339.52,375.57 339.78,375.31 340.05,375.01 340.32,374.66 340.58,374.27 340.84,373.82 341.10,373.30 341.36,372.70 341.61,372.01 341.87,371.26 342.12,370.46 342.38,369.63 342.62,368.80 342.87,367.98 343.10,367.20 343.33,366.45 343.56,365.70 343.79,364.95 344.01,364.20 344.23,363.45 344.43,362.70 344.62,361.95 344.80,361.20 344.96,360.42 345.10,359.62 345.23,358.80 345.34,357.99 345.46,357.19 345.57,356.44 345.68,355.73 345.80,355.10 345.92,354.55 346.03,354.06 346.14,353.62 346.26,353.23 346.37,352.85 346.50,352.48 346.64,352.10 346.80,351.70 346.98,351.26 347.19,350.80 347.42,350.33 347.65,349.86 347.88,349.42 348.11,349.02 348.32,348.67 348.50,348.40 348.66,348.19 348.79,348.03 348.91,347.91 349.02,347.84 349.13,347.82 349.25,347.84 349.37,347.90 349.50,348.00 349.65,348.15 349.80,348.35 349.96,348.59 350.12,348.88 350.29,349.21 350.46,349.57 350.63,349.97 350.80,350.40 350.97,350.87 351.15,351.40 351.32,351.96 351.50,352.56 351.68,353.19 351.85,353.82 352.03,354.46 352.20,355.10 352.37,355.74 352.53,356.40 352.69,357.07 352.85,357.76 353.01,358.44 353.17,359.13 353.33,359.82 353.50,360.50 353.67,361.18 353.85,361.87 354.02,362.56 354.20,363.24 354.38,363.93 354.55,364.60 354.73,365.26 354.90,365.90 355.07,366.53 355.23,367.16 355.39,367.78 355.56,368.38 355.72,368.97 355.88,369.54 356.04,370.08 356.20,370.60 356.36,371.09 356.52,371.55 356.67,371.99 356.82,372.41 356.98,372.81 357.15,373.19 357.32,373.55 357.50,373.90 357.69,374.23 357.89,374.55 358.10,374.85 358.32,375.13 358.54,375.39 358.76,375.62 358.98,375.83 359.20,376.00 359.25,376.13 359.06,376.23 358.78,376.29 358.54,376.33 358.50,376.35 358.80,376.37 359.59,376.38 361.00,376.40 363.32,376.42 366.53,376.43 370.33,376.43 374.41,376.42 378.48,376.42 382.24,376.41 385.38,376.40 387.60,376.40 387.60,376.40" fill="#8a91c2" stroke="none" stroke-width="0"/>
<polyline points="322.40,376.40 323.61,376.40 325.32,376.41 327.36,376.42 329.57,376.42 331.81,376.43 333.89,376.43 335.68,376.42 337.00,376.40 337.85,376.38 338.38,376.38 338.67,376.38 338.78,376.37 338.80,376.34 338.79,376.27 338.83,376.16 339.00,376.00 339.26,375.80 339.52,375.57 339.78,375.31 340.05,375.01 340.32,374.66 340.58,374.27 340.84,373.82 341.10,373.30 341.36,372.70 341.61,372.01 341.87,371.26 342.12,370.46 342.38,369.63 342.62,368.80 342.87,367.98 343.10,367.20 343.33,366.45 343.56,365.70 343.79,364.95 344.01,364.20 344.23,363.45 344.43,362.70 344.62,361.95 344.80,361.20 344.96,360.42 345.10,359.62 345.23,358.80 345.34,357.99 345.46,357.19 345.57,356.44 345.68,355.73 345.80,355.10 345.92,354.55 346.03,354.06 346.14,353.62 346.26,353.23 346.37,352.85 346.50,352.48 346.64,352.10 346.80,351.70 346.98,351.26 347.19,350.80 347.42,350.33 347.65,349.86 347.88,349.42 348.11,349.02 348.32,348.67 348.50,348.40 348.66,348.19 348.79,348.03 348.91,347.91 349.02,347.84 349.13,347.82 349.25,347.84 349.37,347.90 349.50,348.00 349.65,348.15 349.80,348.35 349.96,348.59 350.12,348.88 350.29,349.21 350.46,349.57 350.63,349.97 350.80,350.40 350.97,350.87 351.15,351.40 351.32,351.96 351.50,352.56 351.68,353.19 351.85,353.82 352.03,354.46 352.20,355.10 352.37,355.74 352.53,356.40 352.69,357.07 352.85,357.76 353.01,358.44 353.17,359.13 353.33,359.82 353.50,360.50 353.67,361.18 353.85,361.87 354.02,362.56 354.20,363.24 354.38,363.93 354.55,364.60 354.73,365.26 354.90,365.90 355.07,366.53 355.23,367.16 355.39,367.78 355.56,368.38 355.72,368.97 355.88,369.54 356.04,370.08 356.20,370.60 356.36,371.09 356.52,371.55 356.67,371.99 356.82,372.41 356.98,372.81 357.15,373.19 357.32,373.55 357.50,373.90 357.69,374.23 357.89,374.55 358.10,374.85 358.32,375.13 358.54,375.39 358.76,375.62 358.98,375.83 359.20,376.00 359.25,376.13 359.06,376.23 358.78,376.29 358.54,376.33 358.50,376.35 358.80,376.37 359.59,376.38 361.00,376.40 363.32,376.42 366.53,376.43 370.33,376.43 374.41,376.42 378.48,376.42 382.24,376.41 385.38,376.40 387.60,376.40" fill="none" stroke="#485799" stroke-width="1.0" stroke-linejoin="round"/>
<polygon points="391.60,285.60 391.60,282.90 391.60,282.91 391.57,282.94 391.53,282.98 391.51,283.02 391.51,283.04 391.56,283.03 391.69,282.99 391.90,282.90 392.22,282.75 392.62,282.55 393.10,282.31 393.63,282.04 394.19,281.77 394.75,281.49 395.29,281.23 395.80,281.00 396.28,280.79 396.77,280.60 397.25,280.41 397.73,280.23 398.21,280.05 398.68,279.87 399.14,279.69 399.60,279.50 400.05,279.31 400.51,279.13 400.97,278.96 401.42,278.78 401.85,278.58 402.26,278.38 402.65,278.15 403.00,277.90 403.31,277.62 403.59,277.33 403.84,277.02 404.07,276.69 404.29,276.35 404.50,275.99 404.70,275.60 404.90,275.20 405.10,274.78 405.28,274.35 405.46,273.90 405.62,273.44 405.79,272.95 405.95,272.43 406.12,271.88 406.30,271.30 406.48,270.66 406.67,269.96 406.86,269.22 407.05,268.45 407.24,267.68 407.43,266.94 407.62,266.24 407.80,265.60 407.98,265.02 408.15,264.48 408.33,263.96 408.50,263.48 408.67,263.01 408.85,262.56 409.02,262.13 409.20,261.70 409.38,261.27 409.56,260.84 409.74,260.41 409.92,260.01 410.10,259.63 410.29,259.30 410.49,259.02 410.70,258.80 410.91,258.65 411.14,258.55 411.36,258.50 411.59,258.49 411.83,258.53 412.08,258.59 412.34,258.68 412.60,258.80 412.88,258.94 413.16,259.12 413.46,259.32 413.77,259.56 414.08,259.83 414.39,260.13 414.70,260.45 415.00,260.80 415.30,261.19 415.60,261.62 415.90,262.09 416.20,262.58 416.50,263.09 416.80,263.60 417.10,264.11 417.40,264.60 417.70,265.08 418.00,265.55 418.30,266.02 418.60,266.49 418.90,266.97 419.20,267.46 419.50,267.97 419.80,268.50 420.10,269.06 420.40,269.66 420.70,270.28 421.00,270.91 421.30,271.53 421.60,272.15 421.90,272.74 422.20,273.30 422.50,273.82 422.81,274.32 423.12,274.79 423.43,275.26 423.74,275.71 424.04,276.17 424.32,276.63 424.60,277.10 424.86,277.59 425.11,278.10 425.34,278.62 425.58,279.14 425.80,279.64 426.03,280.13 426.26,280.58 426.50,281.00 426.74,281.38 426.97,281.72 427.21,282.05 427.44,282.34 427.69,282.62 427.94,282.89 428.21,283.15 428.50,283.40 428.77,283.65 429.01,283.88 429.23,284.10 429.48,284.31 429.78,284.51 430.17,284.69 430.66,284.85 431.30,285.00 432.06,285.13 432.91,285.23 433.85,285.32 434.89,285.40 436.02,285.46 437.24,285.52 438.57,285.56 440.00,285.60 441.67,285.63 443.63,285.64 445.77,285.64 447.98,285.64 450.12,285.63 452.08,285.61 453.75,285.60 455.00,285.60 455.81,285.60 456.28,285.60 456.48,285.60 456.49,285.60 456.38,285.60 456.23,285.60 456.11,285.60 456.10,285.60 456.10,285.60" fill="#f2c581" stroke="none" stroke-width="0"/>
<polyline points="391.60,282.90 391.60,282.91 391.57,282.94 391.53,282.98 391.51,283.02 391.51,283.04 391.56,283.03 391.69,282.99 391.90,282.90 392.22,282.75 392.62,282.55 393.10,282.31 393.63,282.04 394.19,281.77 394.75,281.49 395.29,281.23 395.80,281.00 396.28,280.79 396.77,280.60 397.25,280.41 397.73,280.23 398.21,280.05 398.68,279.87 399.14,279.69 399.60,279.50 400.05,279.31 400.51,279.13 400.97,278.96 401.42,278.78 401.85,278.58 402.26,278.38 402.65,278.15 403.00,277.90 403.31,277.62 403.59,277.33 403.84,277.02 404.07,276.69 404.29,276.35 404.50,275.99 404.70,275.60 404.90,275.20 405.10,274.78 405.28,274.35 405.46,273.90 405.62,273.44 405.79,272.95 405.95,272.43 406.12,271.88 406.30,271.30 406.48,270.66 406.67,269.96 406.86,269.22 407.05,268.45 407.24,267.68 407.43,266.94 407.62,266.24 407.80,265.60 407.98,265.02 408.15,264.48 408.33,263.96 408.50,263.48 408.67,263.01 408.85,262.56 409.02,262.13 409.20,261.70 409.38,261.27 409.56,260.84 409.74,260.41 409.92,260.01 410.10,259.63 410.29,259.30 410.49,259.02 410.70,258.80 410.91,258.65 411.14,258.55 411.36,258.50 411.59,258.49 411.83,258.53 412.08,258.59 412.34,258.68 412.60,258.80 412.88,258.94 413.16,259.12 413.46,259.32 413.77,259.56 414.08,259.83 414.39,260.13 414.70,260.45 415.00,260.80 415.30,261.19 415.60,261.62 415.90,262.09 416.20,262.58 416.50,263.09 416.80,263.60 417.10,264.11 417.40,264.60 417.70,265.08 418.00,265.55 418.30,266.02 418.60,266.49 418.90,266.97 419.20,267.46 419.50,267.97 419.80,268.50 420.10,269.06 420.40,269.66 420.70,270.28 421.00,270.91 421.30,271.53 421.60,272.15 421.90,272.74 422.20,273.30 422.50,273.82 422.81,274.32 423.12,274.79 423.43,275.26 423.74,275.71 424.04,276.17 424.32,276.63 424.60,277.10 424.86,277.59 425.11,278.10 425.34,278.62 425.58,279.14 425.80,279.64 426.03,280.13 426.26,280.58 426.50,281.00 426.74,281.38 426.97,281.72 427.21,282.05 427.44,282.34 427.69,282.62 427.94,282.89 428.21,283.15 428.50,283.40 428.77,283.65 429.01,283.88 429.23,284.10 429.48,284.31 429.78,284.51 430.17,284.69 430.66,284.85 431.30,285.00 432.06,285.13 432.91,285.23 433.85,285.32 434.89,285.40 436.02,285.46 437.24,285.52 438.57,285.56 440.00,285.60 441.67,285.63 443.63,285.64 445.77,285.64 447.98,285.64 450.12,285.63 452.08,285.61 453.75,285.60 455.00,285.60 455.81,285.60 456.28,285.60 456.48,285.60 456.49,285.60 456.38,285.60 456.23,285.60 456.11,285.60 456.10,285.60" fill="none" stroke="#e99d3e" stroke-width="1.0" stroke-linejoin="round"/>
<line x1="455.50" y1="266.00" x2="455.50" y2="285.60" stroke="#eba650" stroke-width="1"/>
<polygon points="391.60,316.20 391.60,316.20 392.68,316.20 394.17,316.20 395.95,316.21 397.89,316.21 399.89,316.21 401.82,316.21 403.56,316.21 405.00,316.20 406.17,316.20 407.19,316.23 408.10,316.26 408.90,316.29 409.62,316.29 410.28,316.25 410.90,316.16 411.50,316.00 412.04,315.78 412.49,315.51 412.87,315.19 413.20,314.84 413.51,314.44 413.81,314.00 414.13,313.52 414.50,313.00 414.91,312.43 415.33,311.81 415.76,311.15 416.20,310.44 416.63,309.71 417.05,308.95 417.44,308.18 417.80,307.40 418.13,306.59 418.43,305.73 418.72,304.85 418.99,303.94 419.25,303.04 419.50,302.16 419.75,301.30 420.00,300.50 420.25,299.74 420.50,298.99 420.75,298.27 420.99,297.57 421.22,296.89 421.45,296.24 421.68,295.61 421.90,295.00 422.11,294.42 422.31,293.86 422.51,293.33 422.70,292.82 422.89,292.34 423.09,291.87 423.29,291.43 423.50,291.00 423.72,290.58 423.93,290.15 424.15,289.74 424.38,289.35 424.61,289.00 424.85,288.70 425.12,288.46 425.40,288.30 425.71,288.22 426.06,288.22 426.43,288.27 426.81,288.38 427.18,288.53 427.55,288.71 427.89,288.90 428.20,289.10 428.47,289.32 428.71,289.56 428.93,289.83 429.13,290.13 429.33,290.45 429.54,290.79 429.76,291.14 430.00,291.50 430.26,291.88 430.53,292.27 430.81,292.69 431.09,293.12 431.39,293.57 431.69,294.03 431.99,294.51 432.30,295.00 432.62,295.51 432.94,296.04 433.27,296.59 433.61,297.15 433.96,297.72 434.30,298.31 434.65,298.90 435.00,299.50 435.35,300.12 435.72,300.76 436.09,301.42 436.46,302.09 436.83,302.75 437.19,303.40 437.55,304.02 437.90,304.60 438.24,305.15 438.56,305.68 438.88,306.19 439.20,306.68 439.52,307.15 439.84,307.61 440.16,308.06 440.50,308.50 440.84,308.93 441.19,309.34 441.53,309.74 441.89,310.13 442.25,310.51 442.62,310.88 443.00,311.24 443.40,311.60 443.82,311.96 444.26,312.31 444.71,312.66 445.17,313.00 445.64,313.33 446.10,313.64 446.56,313.93 447.00,314.20 447.42,314.45 447.81,314.68 448.20,314.89 448.58,315.08 448.97,315.26 449.38,315.42 449.82,315.57 450.30,315.70 450.85,315.81 451.46,315.91 452.12,315.98 452.79,316.04 453.44,316.09 454.05,316.13 454.58,316.17 455.00,316.20 455.32,316.22 455.55,316.24 455.72,316.24 455.84,316.23 455.93,316.22 455.99,316.21 456.04,316.20 456.10,316.20 456.10,316.20" fill="#add18f" stroke="none" stroke-width="0"/>
<polyline points="391.60,316.20 392.68,316.20 394.17,316.20 395.95,316.21 397.89,316.21 399.89,316.21 401.82,316.21 403.56,316.21 405.00,316.20 406.17,316.20 407.19,316.23 408.10,316.26 408.90,316.29 409.62,316.29 410.28,316.25 410.90,316.16 411.50,316.00 412.04,315.78 412.49,315.51 412.87,315.19 413.20,314.84 413.51,314.44 413.81,314.00 414.13,313.52 414.50,313.00 414.91,312.43 415.33,311.81 415.76,311.15 416.20,310.44 416.63,309.71 417.05,308.95 417.44,308.18 417.80,307.40 418.13,306.59 418.43,305.73 418.72,304.85 418.99,303.94 419.25,303.04 419.50,302.16 419.75,301.30 420.00,300.50 420.25,299.74 420.50,298.99 420.75,298.27 420.99,297.57 421.22,296.89 421.45,296.24 421.68,295.61 421.90,295.00 422.11,294.42 422.31,293.86 422.51,293.33 422.70,292.82 422.89,292.34 423.09,291.87 423.29,291.43 423.50,291.00 423.72,290.58 423.93,290.15 424.15,289.74 424.38,289.35 424.61,289.00 424.85,288.70 425.12,288.46 425.40,288.30 425.71,288.22 426.06,288.22 426.43,288.27 426.81,288.38 427.18,288.53 427.55,288.71 427.89,288.90 428.20,289.10 428.47,289.32 428.71,289.56 428.93,289.83 429.13,290.13 429.33,290.45 429.54,290.79 429.76,291.14 430.00,291.50 430.26,291.88 430.53,292.27 430.81,292.69 431.09,293.12 431.39,293.57 431.69,294.03 431.99,294.51 432.30,295.00 432.62,295.51 432.94,296.04 433.27,296.59 433.61,297.15 433.96,297.72 434.30,298.31 434.65,298.90 435.00,299.50 435.35,300.12 435.72,300.76 436.09,301.42 436.46,302.09 436.83,302.75 437.19,303.40 437.55,304.02 437.90,304.60 438.24,305.15 438.56,305.68 438.88,306.19 439.20,306.68 439.52,307.15 439.84,307.61 440.16,308.06 440.50,308.50 440.84,308.93 441.19,309.34 441.53,309.74 441.89,310.13 442.25,310.51 442.62,310.88 443.00,311.24 443.40,311.60 443.82,311.96 444.26,312.31 444.71,312.66 445.17,313.00 445.64,313.33 446.10,313.64 446.56,313.93 447.00,314.20 447.42,314.45 447.81,314.68 448.20,314.89 448.58,315.08 448.97,315.26 449.38,315.42 449.82,315.57 450.30,315.70 450.85,315.81 451.46,315.91 452.12,315.98 452.79,316.04 453.44,316.09 454.05,316.13 454.58,316.17 455.00,316.20 455.32,316.22 455.55,316.24 455.72,316.24 455.84,316.23 455.93,316.22 455.99,316.21 456.04,316.20 456.10,316.20" fill="none" stroke="#6cae4c" stroke-width="1.0" stroke-linejoin="round"/>
<polygon points="391.60,346.30 391.60,346.30 392.24,346.30 393.09,346.31 394.09,346.32 395.21,346.33 396.41,346.34 397.63,346.34 398.84,346.32 400.00,346.30 401.18,346.28 402.45,346.29 403.77,346.29 405.09,346.28 406.37,346.24 407.54,346.16 408.57,346.02 409.40,345.80 410.01,345.52 410.44,345.21 410.73,344.85 410.91,344.44 411.04,343.97 411.15,343.42 411.29,342.80 411.50,342.10 411.75,341.29 412.00,340.37 412.25,339.37 412.50,338.31 412.75,337.20 413.00,336.06 413.25,334.92 413.50,333.80 413.76,332.65 414.02,331.44 414.28,330.19 414.54,328.94 414.81,327.70 415.07,326.52 415.34,325.41 415.60,324.40 415.87,323.47 416.14,322.59 416.41,321.76 416.68,320.99 416.95,320.29 417.21,319.67 417.46,319.14 417.70,318.70 417.92,318.36 418.12,318.10 418.31,317.93 418.50,317.84 418.69,317.82 418.88,317.88 419.08,318.01 419.30,318.20 419.54,318.46 419.79,318.80 420.06,319.21 420.33,319.69 420.60,320.25 420.87,320.86 421.14,321.55 421.40,322.30 421.65,323.15 421.90,324.12 422.15,325.18 422.40,326.30 422.65,327.44 422.90,328.58 423.15,329.67 423.40,330.70 423.66,331.69 423.92,332.69 424.18,333.68 424.44,334.65 424.71,335.58 424.97,336.46 425.24,337.27 425.50,338.00 425.75,338.64 425.99,339.20 426.22,339.69 426.45,340.13 426.70,340.52 426.97,340.89 427.26,341.25 427.60,341.60 427.97,341.94 428.37,342.25 428.78,342.53 429.23,342.79 429.70,343.04 430.19,343.27 430.71,343.49 431.25,343.70 431.82,343.90 432.40,344.09 433.01,344.26 433.65,344.42 434.31,344.58 435.01,344.72 435.74,344.86 436.50,345.00 437.32,345.14 438.20,345.26 439.12,345.39 440.06,345.51 441.02,345.62 441.96,345.72 442.88,345.81 443.75,345.90 444.58,345.98 445.39,346.04 446.17,346.10 446.95,346.16 447.71,346.20 448.47,346.24 449.23,346.27 450.00,346.30 450.81,346.32 451.68,346.33 452.57,346.33 453.44,346.32 454.27,346.32 455.01,346.31 455.63,346.30 456.10,346.30 456.10,346.30" fill="#cd7c73" stroke="none" stroke-width="0"/>
<polyline points="391.60,346.30 392.24,346.30 393.09,346.31 394.09,346.32 395.21,346.33 396.41,346.34 397.63,346.34 398.84,346.32 400.00,346.30 401.18,346.28 402.45,346.29 403.77,346.29 405.09,346.28 406.37,346.24 407.54,346.16 408.57,346.02 409.40,345.80 410.01,345.52 410.44,345.21 410.73,344.85 410.91,344.44 411.04,343.97 411.15,343.42 411.29,342.80 411.50,342.10 411.75,341.29 412.00,340.37 412.25,339.37 412.50,338.31 412.75,337.20 413.00,336.06 413.25,334.92 413.50,333.80 413.76,332.65 414.02,331.44 414.28,330.19 414.54,328.94 414.81,327.70 415.07,326.52 415.34,325.41 415.60,324.40 415.87,323.47 416.14,322.59 416.41,321.76 416.68,320.99 416.95,320.29 417.21,319.67 417.46,319.14 417.70,318.70 417.92,318.36 418.12,318.10 418.31,317.93 418.50,317.84 418.69,317.82 418.88,317.88 419.08,318.01 419.30,318.20 419.54,318.46 419.79,318.80 420.06,319.21 420.33,319.69 420.60,320.25 420.87,320.86 421.14,321.55 421.40,322.30 421.65,323.15 421.90,324.12 422.15,325.18 422.40,326.30 422.65,327.44 422.90,328.58 423.15,329.67 423.40,330.70 423.66,331.69 423.92,332.69 424.18,333.68 424.44,334.65 424.71,335.58 424.97,336.46 425.24,337.27 425.50,338.00 425.75,338.64 425.99,339.20 426.22,339.69 426.45,340.13 426.70,340.52 426.97,340.89 427.26,341.25 427.60,341.60 427.97,341.94 428.37,342.25 428.78,342.53 429.23,342.79 429.70,343.04 430.19,343.27 430.71,343.49 431.25,343.70 431.82,343.90 432.40,344.09 433.01,344.26 433.65,344.42 434.31,344.58 435.01,344.72 435.74,344.86 436.50,345.00 437.32,345.14 438.20,345.26 439.12,345.39 440.06,345.51 441.02,345.62 441.96,345.72 442.88,345.81 443.75,345.90 444.58,345.98 445.39,346.04 446.17,346.10 446.95,346.16 447.71,346.20 448.47,346.24 449.23,346.27 450.00,346.30 450.81,346.32 451.68,346.33 452.57,346.33 453.44,346.32 454.27,346.32 455.01,346.31 455.63,346.30 456.10,346.30" fill="none" stroke="#c9334b" stroke-width="1.0" stroke-linejoin="round"/>
<polygon points="391.60,376.40 391.60,376.40 392.96,376.40 394.88,376.40 397.16,376.41 399.65,376.41 402.15,376.41 404.50,376.41 406.51,376.41 408.00,376.40 408.97,376.42 409.59,376.50 409.94,376.59 410.09,376.67 410.14,376.70 410.15,376.66 410.21,376.50 410.40,376.20 410.68,375.75 410.95,375.17 411.21,374.50 411.47,373.73 411.73,372.91 411.98,372.04 412.24,371.15 412.50,370.25 412.77,369.31 413.04,368.31 413.31,367.25 413.59,366.16 413.86,365.06 414.12,363.97 414.37,362.91 414.60,361.90 414.82,360.92 415.01,359.95 415.20,358.99 415.38,358.05 415.56,357.14 415.73,356.25 415.91,355.40 416.10,354.60 416.30,353.82 416.49,353.05 416.69,352.31 416.89,351.61 417.10,350.95 417.30,350.36 417.50,349.83 417.70,349.40 417.90,349.05 418.10,348.76 418.30,348.54 418.51,348.38 418.71,348.29 418.91,348.26 419.10,348.30 419.30,348.40 419.49,348.57 419.68,348.81 419.87,349.12 420.05,349.50 420.23,349.93 420.42,350.41 420.61,350.93 420.80,351.50 421.00,352.12 421.19,352.82 421.39,353.57 421.59,354.37 421.80,355.19 422.00,356.04 422.20,356.90 422.40,357.75 422.60,358.61 422.80,359.51 423.00,360.44 423.21,361.37 423.41,362.31 423.61,363.23 423.80,364.13 424.00,365.00 424.19,365.85 424.38,366.71 424.57,367.55 424.75,368.38 424.93,369.18 425.12,369.94 425.31,370.65 425.50,371.30 425.68,371.90 425.83,372.45 425.98,372.96 426.13,373.42 426.31,373.85 426.52,374.24 426.78,374.59 427.10,374.90 427.49,375.16 427.93,375.37 428.42,375.53 428.95,375.65 429.50,375.75 430.08,375.83 430.66,375.91 431.25,376.00 431.76,376.09 432.15,376.16 432.51,376.22 432.91,376.27 433.43,376.31 434.15,376.34 435.15,376.37 436.50,376.40 438.40,376.42 440.85,376.43 443.66,376.43 446.63,376.42 449.55,376.42 452.24,376.41 454.49,376.40 456.10,376.40 456.10,376.40" fill="#8a91c2" stroke="none" stroke-width="0"/>
<polyline points="391.60,376.40 392.96,376.40 394.88,376.40 397.16,376.41 399.65,376.41 402.15,376.41 404.50,376.41 406.51,376.41 408.00,376.40 408.97,376.42 409.59,376.50 409.94,376.59 410.09,376.67 410.14,376.70 410.15,376.66 410.21,376.50 410.40,376.20 410.68,375.75 410.95,375.17 411.21,374.50 411.47,373.73 411.73,372.91 411.98,372.04 412.24,371.15 412.50,370.25 412.77,369.31 413.04,368.31 413.31,367.25 413.59,366.16 413.86,365.06 414.12,363.97 414.37,362.91 414.60,361.90 414.82,360.92 415.01,359.95 415.20,358.99 415.38,358.05 415.56,357.14 415.73,356.25 415.91,355.40 416.10,354.60 416.30,353.82 416.49,353.05 416.69,352.31 416.89,351.61 417.10,350.95 417.30,350.36 417.50,349.83 417.70,349.40 417.90,349.05 418.10,348.76 418.30,348.54 418.51,348.38 418.71,348.29 418.91,348.26 419.10,348.30 419.30,348.40 419.49,348.57 419.68,348.81 419.87,349.12 420.05,349.50 420.23,349.93 420.42,350.41 420.61,350.93 420.80,351.50 421.00,352.12 421.19,352.82 421.39,353.57 421.59,354.37 421.80,355.19 422.00,356.04 422.20,356.90 422.40,357.75 422.60,358.61 422.80,359.51 423.00,360.44 423.21,361.37 423.41,362.31 423.61,363.23 423.80,364.13 424.00,365.00 424.19,365.85 424.38,366.71 424.57,367.55 424.75,368.38 424.93,369.18 425.12,369.94 425.31,370.65 425.50,371.30 425.68,371.90 425.83,372.45 425.98,372.96 426.13,373.42 426.31,373.85 426.52,374.24 426.78,374.59 427.10,374.90 427.49,375.16 427.93,375.37 428.42,375.53 428.95,375.65 429.50,375.75 430.08,375.83 430.66,375.91 431.25,376.00 431.76,376.09 432.15,376.16 432.51,376.22 432.91,376.27 433.43,376.31 434.15,376.34 435.15,376.37 436.50,376.40 438.40,376.42 440.85,376.43 443.66,376.43 446.63,376.42 449.55,376.42 452.24,376.41 454.49,376.40 456.10,376.40" fill="none" stroke="#485799" stroke-width="1.0" stroke-linejoin="round"/>
<rect x="322.40" y="256.0" width="65.20" height="120.60" fill="none" stroke="#1a1a1a" stroke-width="1.4"/>
<line x1="357.50" y1="256.00" x2="357.50" y2="376.60" stroke="#333" stroke-width="1.1"/>
<line x1="325.40" y1="377.20" x2="325.40" y2="378.97" stroke="#333" stroke-width="0.75"/>
<line x1="328.08" y1="377.20" x2="328.08" y2="378.52" stroke="#333" stroke-width="0.75"/>
<line x1="329.85" y1="377.20" x2="329.85" y2="378.38" stroke="#333" stroke-width="0.75"/>
<line x1="332.74" y1="377.20" x2="332.74" y2="378.26" stroke="#333" stroke-width="0.75"/>
<line x1="334.67" y1="377.20" x2="334.67" y2="378.65" stroke="#333" stroke-width="0.75"/>
<line x1="337.34" y1="377.20" x2="337.34" y2="378.33" stroke="#333" stroke-width="0.75"/>
<line x1="339.32" y1="377.20" x2="339.32" y2="378.30" stroke="#333" stroke-width="0.75"/>
<line x1="342.02" y1="377.20" x2="342.02" y2="378.46" stroke="#333" stroke-width="0.75"/>
<line x1="344.73" y1="377.20" x2="344.73" y2="378.57" stroke="#333" stroke-width="0.75"/>
<line x1="347.20" y1="377.20" x2="347.20" y2="378.98" stroke="#333" stroke-width="0.75"/>
<line x1="349.97" y1="377.20" x2="349.97" y2="378.55" stroke="#333" stroke-width="0.75"/>
<line x1="352.64" y1="377.20" x2="352.64" y2="378.39" stroke="#333" stroke-width="0.75"/>
<line x1="355.24" y1="377.20" x2="355.24" y2="378.90" stroke="#333" stroke-width="0.75"/>
<line x1="357.90" y1="377.20" x2="357.90" y2="378.90" stroke="#333" stroke-width="0.75"/>
<line x1="360.53" y1="377.20" x2="360.53" y2="379.06" stroke="#333" stroke-width="0.75"/>
<line x1="363.19" y1="377.20" x2="363.19" y2="378.70" stroke="#333" stroke-width="0.75"/>
<line x1="365.04" y1="377.20" x2="365.04" y2="378.33" stroke="#333" stroke-width="0.75"/>
<line x1="367.63" y1="377.20" x2="367.63" y2="379.05" stroke="#333" stroke-width="0.75"/>
<line x1="369.36" y1="377.20" x2="369.36" y2="378.38" stroke="#333" stroke-width="0.75"/>
<line x1="371.93" y1="377.20" x2="371.93" y2="378.53" stroke="#333" stroke-width="0.75"/>
<line x1="374.24" y1="377.20" x2="374.24" y2="378.97" stroke="#333" stroke-width="0.75"/>
<line x1="376.59" y1="377.20" x2="376.59" y2="378.42" stroke="#333" stroke-width="0.75"/>
<line x1="379.09" y1="377.20" x2="379.09" y2="378.11" stroke="#333" stroke-width="0.75"/>
<line x1="381.08" y1="377.20" x2="381.08" y2="379.04" stroke="#333" stroke-width="0.75"/>
<line x1="383.58" y1="377.20" x2="383.58" y2="378.88" stroke="#333" stroke-width="0.75"/>
<line x1="385.47" y1="377.20" x2="385.47" y2="378.90" stroke="#333" stroke-width="0.75"/>
<line x1="327.60" y1="377.20" x2="327.60" y2="379.20" stroke="#231f20" stroke-width="0.9"/>
<line x1="351.20" y1="377.20" x2="351.20" y2="379.20" stroke="#231f20" stroke-width="0.9"/>
<line x1="370.90" y1="377.20" x2="370.90" y2="379.20" stroke="#231f20" stroke-width="0.9"/>
<text x="321.10" y="389.90" font-size="7.27" textLength="9.80" lengthAdjust="spacingAndGlyphs" fill="#231f20" stroke="#231f20" stroke-width="0.2">-10</text>
<text x="331.50" y="386.60" font-size="5.23" textLength="2.50" lengthAdjust="spacingAndGlyphs" fill="#231f20" stroke="#231f20" stroke-width="0.2">4</text>
<text x="348.90" y="389.90" font-size="7.27" textLength="4.70" lengthAdjust="spacingAndGlyphs" fill="#231f20" stroke="#231f20" stroke-width="0.2">0</text>
<text x="367.20" y="389.90" font-size="7.27" textLength="7.40" lengthAdjust="spacingAndGlyphs" fill="#231f20" stroke="#231f20" stroke-width="0.2">10</text>
<text x="375.20" y="386.60" font-size="5.23" textLength="3.20" lengthAdjust="spacingAndGlyphs" fill="#231f20" stroke="#231f20" stroke-width="0.2">4</text>
<rect x="391.60" y="256.0" width="64.50" height="120.60" fill="none" stroke="#1a1a1a" stroke-width="1.4"/>
<line x1="427.50" y1="256.00" x2="427.50" y2="376.60" stroke="#333" stroke-width="1.1"/>
<line x1="394.60" y1="377.20" x2="394.60" y2="378.59" stroke="#333" stroke-width="0.75"/>
<line x1="397.45" y1="377.20" x2="397.45" y2="378.73" stroke="#333" stroke-width="0.75"/>
<line x1="399.95" y1="377.20" x2="399.95" y2="378.25" stroke="#333" stroke-width="0.75"/>
<line x1="402.75" y1="377.20" x2="402.75" y2="378.14" stroke="#333" stroke-width="0.75"/>
<line x1="405.05" y1="377.20" x2="405.05" y2="378.95" stroke="#333" stroke-width="0.75"/>
<line x1="407.59" y1="377.20" x2="407.59" y2="378.34" stroke="#333" stroke-width="0.75"/>
<line x1="409.80" y1="377.20" x2="409.80" y2="378.49" stroke="#333" stroke-width="0.75"/>
<line x1="411.77" y1="377.20" x2="411.77" y2="378.99" stroke="#333" stroke-width="0.75"/>
<line x1="414.06" y1="377.20" x2="414.06" y2="378.51" stroke="#333" stroke-width="0.75"/>
<line x1="416.21" y1="377.20" x2="416.21" y2="378.73" stroke="#333" stroke-width="0.75"/>
<line x1="418.68" y1="377.20" x2="418.68" y2="378.97" stroke="#333" stroke-width="0.75"/>
<line x1="420.96" y1="377.20" x2="420.96" y2="378.68" stroke="#333" stroke-width="0.75"/>
<line x1="422.70" y1="377.20" x2="422.70" y2="378.97" stroke="#333" stroke-width="0.75"/>
<line x1="425.53" y1="377.20" x2="425.53" y2="378.66" stroke="#333" stroke-width="0.75"/>
<line x1="428.23" y1="377.20" x2="428.23" y2="378.80" stroke="#333" stroke-width="0.75"/>
<line x1="430.55" y1="377.20" x2="430.55" y2="378.81" stroke="#333" stroke-width="0.75"/>
<line x1="432.70" y1="377.20" x2="432.70" y2="378.95" stroke="#333" stroke-width="0.75"/>
<line x1="435.39" y1="377.20" x2="435.39" y2="378.63" stroke="#333" stroke-width="0.75"/>
<line x1="437.85" y1="377.20" x2="437.85" y2="378.31" stroke="#333" stroke-width="0.75"/>
<line x1="440.27" y1="377.20" x2="440.27" y2="378.57" stroke="#333" stroke-width="0.75"/>
<line x1="442.33" y1="377.20" x2="442.33" y2="378.65" stroke="#333" stroke-width="0.75"/>
<line x1="444.72" y1="377.20" x2="444.72" y2="378.31" stroke="#333" stroke-width="0.75"/>
<line x1="446.53" y1="377.20" x2="446.53" y2="378.41" stroke="#333" stroke-width="0.75"/>
<line x1="448.53" y1="377.20" x2="448.53" y2="378.32" stroke="#333" stroke-width="0.75"/>
<line x1="451.06" y1="377.20" x2="451.06" y2="378.73" stroke="#333" stroke-width="0.75"/>
<line x1="453.94" y1="377.20" x2="453.94" y2="378.42" stroke="#333" stroke-width="0.75"/>
<line x1="396.80" y1="377.20" x2="396.80" y2="379.20" stroke="#231f20" stroke-width="0.9"/>
<line x1="420.40" y1="377.20" x2="420.40" y2="379.20" stroke="#231f20" stroke-width="0.9"/>
<line x1="440.10" y1="377.20" x2="440.10" y2="379.20" stroke="#231f20" stroke-width="0.9"/>
<text x="390.30" y="389.90" font-size="7.27" textLength="9.80" lengthAdjust="spacingAndGlyphs" fill="#231f20" stroke="#231f20" stroke-width="0.2">-10</text>
<text x="400.70" y="386.60" font-size="5.23" textLength="2.50" lengthAdjust="spacingAndGlyphs" fill="#231f20" stroke="#231f20" stroke-width="0.2">4</text>
<text x="418.10" y="389.90" font-size="7.27" textLength="4.70" lengthAdjust="spacingAndGlyphs" fill="#231f20" stroke="#231f20" stroke-width="0.2">0</text>
<text x="436.40" y="389.90" font-size="7.27" textLength="7.40" lengthAdjust="spacingAndGlyphs" fill="#231f20" stroke="#231f20" stroke-width="0.2">10</text>
<text x="444.40" y="386.60" font-size="5.23" textLength="3.20" lengthAdjust="spacingAndGlyphs" fill="#231f20" stroke="#231f20" stroke-width="0.2">4</text>
<text x="369.10" y="264.80" font-size="6.83" textLength="14.60" lengthAdjust="spacingAndGlyphs" fill="#231f20" stroke="#231f20" stroke-width="0.2">0.72</text>
<text x="369.10" y="294.40" font-size="6.83" textLength="14.60" lengthAdjust="spacingAndGlyphs" fill="#231f20" stroke="#231f20" stroke-width="0.2">67.6</text>
<text x="369.10" y="325.00" font-size="6.83" textLength="14.60" lengthAdjust="spacingAndGlyphs" fill="#231f20" stroke="#231f20" stroke-width="0.2">3.14</text>
<text x="369.10" y="353.80" font-size="6.83" textLength="14.60" lengthAdjust="spacingAndGlyphs" fill="#231f20" stroke="#231f20" stroke-width="0.2">0.58</text>
<text x="441.00" y="263.50" font-size="6.69" textLength="14.00" lengthAdjust="spacingAndGlyphs" fill="#231f20" stroke="#231f20" stroke-width="0.2">2.91</text>
<text x="441.00" y="292.90" font-size="6.69" textLength="14.00" lengthAdjust="spacingAndGlyphs" fill="#231f20" stroke="#231f20" stroke-width="0.2">49.2</text>
<text x="441.00" y="324.00" font-size="6.69" textLength="14.00" lengthAdjust="spacingAndGlyphs" fill="#231f20" stroke="#231f20" stroke-width="0.2">7.39</text>
<text x="441.00" y="353.80" font-size="6.69" textLength="14.00" lengthAdjust="spacingAndGlyphs" fill="#231f20" stroke="#231f20" stroke-width="0.2">2.92</text>
<line x1="331.50" y1="394.50" x2="440.50" y2="394.50" stroke="#231f20" stroke-width="1"/>
<polygon points="444.00,394.40 438.50,392.10 438.50,396.70" fill="#231f20" stroke="none" stroke-width="0"/>
<text x="374.80" y="405.70" font-size="9.30" textLength="26.50" lengthAdjust="spacingAndGlyphs" fill="#231f20" stroke="#231f20" stroke-width="0.2">FCGR1A</text>
<path d="M51.50,437.80 V579.50 H234.30" fill="none" stroke="#1a1a1a" stroke-width="1.3" stroke-linejoin="miter"/>
<line x1="47.95" y1="579.50" x2="51.25" y2="579.50" stroke="#231f20" stroke-width="1"/>
<text x="44.95" y="581.90" font-size="7.70" text-anchor="end" fill="#231f20" stroke="#231f20" stroke-width="0.2">0</text>
<line x1="47.95" y1="544.50" x2="51.25" y2="544.50" stroke="#231f20" stroke-width="1"/>
<text x="44.95" y="547.20" font-size="7.70" text-anchor="end" fill="#231f20" stroke="#231f20" stroke-width="0.2">20</text>
<line x1="47.95" y1="509.50" x2="51.25" y2="509.50" stroke="#231f20" stroke-width="1"/>
<text x="44.95" y="512.50" font-size="7.70" text-anchor="end" fill="#231f20" stroke="#231f20" stroke-width="0.2">40</text>
<line x1="47.95" y1="475.50" x2="51.25" y2="475.50" stroke="#231f20" stroke-width="1"/>
<text x="44.95" y="477.80" font-size="7.70" text-anchor="end" fill="#231f20" stroke="#231f20" stroke-width="0.2">60</text>
<line x1="47.95" y1="440.50" x2="51.25" y2="440.50" stroke="#231f20" stroke-width="1"/>
<text x="44.95" y="443.10" font-size="7.70" text-anchor="end" fill="#231f20" stroke="#231f20" stroke-width="0.2">80</text>
<line x1="51.50" y1="579.30" x2="51.50" y2="582.30" stroke="#231f20" stroke-width="1"/>
<text x="51.25" y="592.50" font-size="7.80" text-anchor="middle" fill="#231f20" stroke="#231f20" stroke-width="0.2">0</text>
<line x1="92.50" y1="579.30" x2="92.50" y2="582.30" stroke="#231f20" stroke-width="1"/>
<text x="92.10" y="592.50" font-size="7.80" text-anchor="middle" fill="#231f20" stroke="#231f20" stroke-width="0.2">1</text>
<line x1="132.50" y1="579.30" x2="132.50" y2="582.30" stroke="#231f20" stroke-width="1"/>
<text x="132.95" y="592.50" font-size="7.80" text-anchor="middle" fill="#231f20" stroke="#231f20" stroke-width="0.2">2</text>
<line x1="173.50" y1="579.30" x2="173.50" y2="582.30" stroke="#231f20" stroke-width="1"/>
<text x="173.80" y="592.50" font-size="7.80" text-anchor="middle" fill="#231f20" stroke="#231f20" stroke-width="0.2">3</text>
<line x1="214.50" y1="579.30" x2="214.50" y2="582.30" stroke="#231f20" stroke-width="1"/>
<text x="214.65" y="592.50" font-size="7.80" text-anchor="middle" fill="#231f20" stroke="#231f20" stroke-width="0.2">4</text>
<text x="110.00" y="606.00" font-size="9.16" textLength="67.10" lengthAdjust="spacingAndGlyphs" fill="#231f20" stroke="#231f20" stroke-width="0.2">DNT:OCI-AML2 ratio</text>
<text x="29.20" y="508.00" font-size="8.72" text-anchor="middle" textLength="61.70" lengthAdjust="spacingAndGlyphs" fill="#231f20" stroke="#231f20" stroke-width="0.2" transform="rotate(-90 29.20 508.00)">Specific killing (%)</text>
<polyline points="92.10,525.86 132.95,485.96 214.65,450.91" fill="none" stroke="#66ad3c" stroke-width="1.3"/>
<circle cx="92.10" cy="525.86" r="1.55" fill="#66ad3c"/>
<circle cx="132.95" cy="485.96" r="1.55" fill="#66ad3c"/>
<circle cx="214.65" cy="450.91" r="1.55" fill="#66ad3c"/>
<polyline points="92.10,565.94 132.95,556.92 214.65,545.99" fill="none" stroke="#b4143f" stroke-width="1.3"/>
<circle cx="92.10" cy="565.94" r="1.55" fill="#b4143f"/>
<circle cx="132.95" cy="556.92" r="1.55" fill="#b4143f"/>
<circle cx="214.65" cy="545.99" r="1.55" fill="#b4143f"/>
<polyline points="92.10,572.53 132.95,565.51 214.65,555.53" fill="none" stroke="#2e4d8b" stroke-width="1.3"/>
<circle cx="92.10" cy="572.53" r="1.55" fill="#2e4d8b"/>
<circle cx="132.95" cy="565.51" r="1.55" fill="#2e4d8b"/>
<circle cx="214.65" cy="555.53" r="1.55" fill="#2e4d8b"/>
<line x1="92.50" y1="524.13" x2="92.50" y2="527.60" stroke="#66ad3c" stroke-width="1"/>
<circle cx="92.10" cy="524.13" r="0.95" fill="#66ad3c"/>
<circle cx="92.10" cy="527.60" r="0.95" fill="#66ad3c"/>
<line x1="132.50" y1="484.22" x2="132.50" y2="487.69" stroke="#66ad3c" stroke-width="1"/>
<circle cx="132.95" cy="484.22" r="0.95" fill="#66ad3c"/>
<circle cx="132.95" cy="487.69" r="0.95" fill="#66ad3c"/>
<line x1="214.50" y1="542.86" x2="214.50" y2="549.11" stroke="#b4143f" stroke-width="1"/>
<circle cx="214.65" cy="542.86" r="0.95" fill="#b4143f"/>
<circle cx="214.65" cy="549.11" r="0.95" fill="#b4143f"/>
<line x1="57.50" y1="440.50" x2="57.50" y2="462.90" stroke="#231f20" stroke-width="1"/>
<circle cx="54.20" cy="446.60" r="1.1" fill="#231f20"/>
<circle cx="54.20" cy="449.90" r="1.1" fill="#231f20"/>
<circle cx="54.20" cy="453.30" r="1.1" fill="#231f20"/>
<circle cx="54.20" cy="456.80" r="1.1" fill="#231f20"/>
<line x1="66.50" y1="441.30" x2="66.50" y2="453.60" stroke="#6a6a6a" stroke-width="1.7"/>
<circle cx="63.60" cy="442.20" r="1.1" fill="#231f20"/>
<circle cx="63.60" cy="445.50" r="1.1" fill="#231f20"/>
<circle cx="63.60" cy="448.80" r="1.1" fill="#231f20"/>
<circle cx="63.60" cy="452.30" r="1.1" fill="#231f20"/>
<line x1="70.70" y1="443.40" x2="80.90" y2="443.40" stroke="#66ad3c" stroke-width="1.5"/>
<circle cx="75.80" cy="443.40" r="1.5" fill="#66ad3c"/>
<text x="84.20" y="445.75" font-size="7.12" textLength="26.90" lengthAdjust="spacingAndGlyphs" fill="#66ad3c" stroke="#66ad3c" stroke-width="0.2">sgAAVS</text>
<line x1="70.70" y1="453.20" x2="80.90" y2="453.20" stroke="#b4143f" stroke-width="1.5"/>
<circle cx="75.80" cy="453.20" r="1.5" fill="#b4143f"/>
<text x="84.20" y="455.55" font-size="7.12" textLength="43.10" lengthAdjust="spacingAndGlyphs" fill="#b4143f" stroke="#b4143f" stroke-width="0.2">sgFCGRA1-1</text>
<line x1="70.70" y1="463.70" x2="80.90" y2="463.70" stroke="#2e4d8b" stroke-width="1.5"/>
<circle cx="75.80" cy="463.70" r="1.5" fill="#2e4d8b"/>
<text x="84.20" y="466.05" font-size="7.12" textLength="43.90" lengthAdjust="spacingAndGlyphs" fill="#2e4d8b" stroke="#2e4d8b" stroke-width="0.2">sgFCGR1A-2</text>
<path d="M288.50,441.90 V579.50 H466.50" fill="none" stroke="#1a1a1a" stroke-width="1.3" stroke-linejoin="miter"/>
<line x1="285.00" y1="579.50" x2="288.30" y2="579.50" stroke="#231f20" stroke-width="1"/>
<text x="282.00" y="581.90" font-size="7.70" text-anchor="end" fill="#231f20" stroke="#231f20" stroke-width="0.2">0</text>
<line x1="285.00" y1="545.50" x2="288.30" y2="545.50" stroke="#231f20" stroke-width="1"/>
<text x="282.00" y="548.10" font-size="7.70" text-anchor="end" fill="#231f20" stroke="#231f20" stroke-width="0.2">20</text>
<line x1="285.00" y1="511.50" x2="288.30" y2="511.50" stroke="#231f20" stroke-width="1"/>
<text x="282.00" y="514.30" font-size="7.70" text-anchor="end" fill="#231f20" stroke="#231f20" stroke-width="0.2">40</text>
<line x1="285.00" y1="477.50" x2="288.30" y2="477.50" stroke="#231f20" stroke-width="1"/>
<text x="282.00" y="480.50" font-size="7.70" text-anchor="end" fill="#231f20" stroke="#231f20" stroke-width="0.2">60</text>
<line x1="285.00" y1="444.50" x2="288.30" y2="444.50" stroke="#231f20" stroke-width="1"/>
<text x="282.00" y="446.70" font-size="7.70" text-anchor="end" fill="#231f20" stroke="#231f20" stroke-width="0.2">80</text>
<line x1="288.50" y1="579.30" x2="288.50" y2="582.30" stroke="#231f20" stroke-width="1"/>
<text x="288.30" y="592.50" font-size="7.80" text-anchor="middle" fill="#231f20" stroke="#231f20" stroke-width="0.2">0</text>
<line x1="328.50" y1="579.30" x2="328.50" y2="582.30" stroke="#231f20" stroke-width="1"/>
<text x="328.10" y="592.50" font-size="7.80" text-anchor="middle" fill="#231f20" stroke="#231f20" stroke-width="0.2">1</text>
<line x1="367.50" y1="579.30" x2="367.50" y2="582.30" stroke="#231f20" stroke-width="1"/>
<text x="367.90" y="592.50" font-size="7.80" text-anchor="middle" fill="#231f20" stroke="#231f20" stroke-width="0.2">2</text>
<line x1="407.50" y1="579.30" x2="407.50" y2="582.30" stroke="#231f20" stroke-width="1"/>
<text x="407.70" y="592.50" font-size="7.80" text-anchor="middle" fill="#231f20" stroke="#231f20" stroke-width="0.2">3</text>
<line x1="447.50" y1="579.30" x2="447.50" y2="582.30" stroke="#231f20" stroke-width="1"/>
<text x="447.50" y="592.50" font-size="7.80" text-anchor="middle" fill="#231f20" stroke="#231f20" stroke-width="0.2">4</text>
<text x="344.50" y="605.90" font-size="9.16" textLength="66.40" lengthAdjust="spacingAndGlyphs" fill="#231f20" stroke="#231f20" stroke-width="0.2">DNT:OCI-AML3 ratio</text>
<text x="268.20" y="510.40" font-size="8.72" text-anchor="middle" textLength="61.70" lengthAdjust="spacingAndGlyphs" fill="#231f20" stroke="#231f20" stroke-width="0.2" transform="rotate(-90 268.20 510.40)">Specific killing (%)</text>
<polyline points="328.10,508.32 367.90,479.59 447.50,458.46" fill="none" stroke="#66ad3c" stroke-width="1.3"/>
<circle cx="328.10" cy="508.32" r="1.55" fill="#66ad3c"/>
<circle cx="367.90" cy="479.59" r="1.55" fill="#66ad3c"/>
<circle cx="447.50" cy="458.46" r="1.55" fill="#66ad3c"/>
<polyline points="328.10,563.25 367.90,557.33 447.50,548.03" fill="none" stroke="#b4143f" stroke-width="1.3"/>
<circle cx="328.10" cy="563.25" r="1.55" fill="#b4143f"/>
<circle cx="367.90" cy="557.33" r="1.55" fill="#b4143f"/>
<circle cx="447.50" cy="548.03" r="1.55" fill="#b4143f"/>
<polyline points="328.10,571.69 367.90,566.46 447.50,558.51" fill="none" stroke="#2e4d8b" stroke-width="1.3"/>
<circle cx="328.10" cy="571.69" r="1.55" fill="#2e4d8b"/>
<circle cx="367.90" cy="566.46" r="1.55" fill="#2e4d8b"/>
<circle cx="447.50" cy="558.51" r="1.55" fill="#2e4d8b"/>
<line x1="447.50" y1="453.90" x2="447.50" y2="463.03" stroke="#66ad3c" stroke-width="1"/>
<circle cx="447.50" cy="453.90" r="0.95" fill="#66ad3c"/>
<circle cx="447.50" cy="463.03" r="0.95" fill="#66ad3c"/>
<line x1="294.50" y1="443.80" x2="294.50" y2="466.20" stroke="#231f20" stroke-width="1"/>
<circle cx="291.50" cy="449.50" r="1.1" fill="#231f20"/>
<circle cx="291.50" cy="452.80" r="1.1" fill="#231f20"/>
<circle cx="291.50" cy="456.10" r="1.1" fill="#231f20"/>
<circle cx="291.50" cy="459.40" r="1.1" fill="#231f20"/>
<line x1="303.50" y1="444.60" x2="303.50" y2="456.70" stroke="#6a6a6a" stroke-width="1.7"/>
<circle cx="300.60" cy="445.20" r="1.1" fill="#231f20"/>
<circle cx="300.60" cy="448.50" r="1.1" fill="#231f20"/>
<circle cx="300.60" cy="451.80" r="1.1" fill="#231f20"/>
<circle cx="300.60" cy="455.10" r="1.1" fill="#231f20"/>
<line x1="307.10" y1="447.30" x2="317.30" y2="447.30" stroke="#66ad3c" stroke-width="1.5"/>
<circle cx="312.20" cy="447.30" r="1.5" fill="#66ad3c"/>
<text x="320.50" y="449.65" font-size="7.12" textLength="26.40" lengthAdjust="spacingAndGlyphs" fill="#66ad3c" stroke="#66ad3c" stroke-width="0.2">sgAAVS</text>
<line x1="307.10" y1="457.30" x2="317.30" y2="457.30" stroke="#b4143f" stroke-width="1.5"/>
<circle cx="312.20" cy="457.30" r="1.5" fill="#b4143f"/>
<text x="320.50" y="459.65" font-size="7.12" textLength="42.60" lengthAdjust="spacingAndGlyphs" fill="#b4143f" stroke="#b4143f" stroke-width="0.2">sgFCGRA1-1</text>
<line x1="307.10" y1="467.00" x2="317.30" y2="467.00" stroke="#2e4d8b" stroke-width="1.5"/>
<circle cx="312.20" cy="467.00" r="1.5" fill="#2e4d8b"/>
<text x="320.50" y="469.35" font-size="7.12" textLength="43.90" lengthAdjust="spacingAndGlyphs" fill="#2e4d8b" stroke="#2e4d8b" stroke-width="0.2">sgFCGR1A-2</text>
<rect x="0.5" y="0.5" width="519" height="614" fill="none" stroke="#000" stroke-width="1"/>
</svg>
</body></html>
